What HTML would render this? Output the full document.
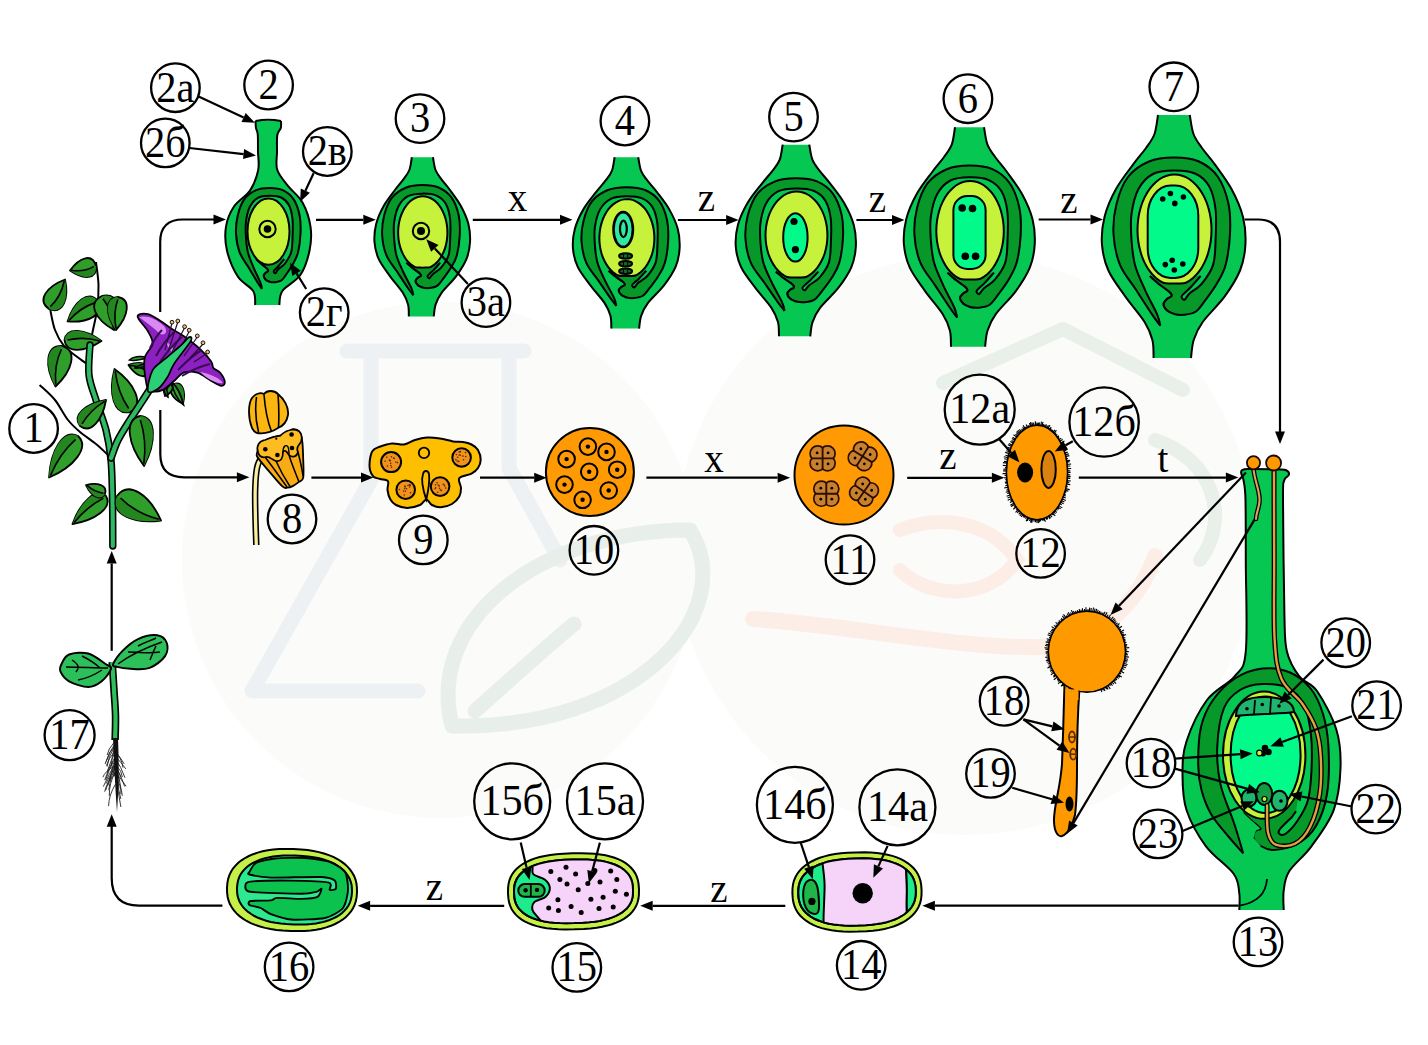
<!DOCTYPE html><html><head><meta charset="utf-8"><style>html,body{margin:0;padding:0;background:#fff;}svg{display:block;} text{font-family:"Liberation Serif",serif;}</style></head><body><svg width="1428" height="1045" viewBox="0 0 1428 1045"><rect width="1428" height="1045" fill="#fff"/><g id="wm"><circle cx="440" cy="560" r="258" fill="#fbfbfa"/><circle cx="965" cy="545" r="290" fill="#fbfbfa"/><path d="M347,351 L524,351 M371,351 L371,480 L252,691 L418,691 M509,351 L509,468 L560,560" fill="none" stroke="#edf1f4" stroke-width="15" stroke-linejoin="round" stroke-linecap="round"/><path d="M452,726 C425,620 540,530 690,530 C740,610 640,730 452,726 Z M475,711 C510,680 545,648 574,624" fill="none" stroke="#e8eee9" stroke-width="15" stroke-linejoin="round" stroke-linecap="round"/><path d="M943,383 L1063,329 L1183,390" fill="none" stroke="#e9f0ea" stroke-width="14" stroke-linecap="round" stroke-linejoin="round"/><path d="M1155,440 C1215,460 1230,520 1200,560" fill="none" stroke="#e9f0ea" stroke-width="14" stroke-linecap="round"/><path d="M753,619 C850,625 960,650 1052,647 C1100,640 1140,600 1155,556" fill="none" stroke="#fcede7" stroke-width="16" stroke-linecap="round"/><path d="M900,530 C940,515 990,520 1017,560 C990,600 930,600 900,570" fill="none" stroke="#fcede7" stroke-width="14" stroke-linecap="round"/></g><path d="M255.5,121.0 C255.6,122.2 255.6,125.7 256.0,128.0 C256.4,130.3 257.5,131.0 257.8,135.0 C258.1,139.0 257.9,146.2 258.0,152.0 C258.1,157.8 259.5,163.6 258.2,170.0 C256.9,176.4 254.2,184.3 250.2,190.4 C246.2,196.5 238.0,200.5 234.0,206.5 C230.0,212.5 227.2,219.2 226.0,226.6 C224.8,234.0 225.0,242.3 227.0,250.7 C229.0,259.1 233.6,270.1 238.0,276.8 C242.4,283.5 250.3,286.3 253.2,291.0 C256.1,295.7 254.9,302.7 255.2,305.0 L279.3,305.0 C279.8,302.7 278.9,296.0 282.4,291.0 C285.9,286.0 296.0,281.5 300.5,274.8 C305.0,268.1 307.8,258.7 309.5,250.7 C311.2,242.7 311.7,234.6 310.5,226.6 C309.3,218.6 306.2,209.2 302.5,202.5 C298.8,195.8 292.6,191.8 288.4,186.4 C284.2,181.0 279.2,175.7 277.3,170.0 C275.4,164.3 277.0,157.8 277.0,152.0 C277.0,146.2 276.7,139.0 277.3,135.0 C277.9,131.0 280.2,130.3 280.8,128.0 C281.4,125.7 281.0,122.2 281.0,121.0 Z" fill="#05c752"/><path d="M255.5,121.0 C255.6,122.2 255.6,125.7 256.0,128.0 C256.4,130.3 257.5,131.0 257.8,135.0 C258.1,139.0 257.9,146.2 258.0,152.0 C258.1,157.8 259.5,163.6 258.2,170.0 C256.9,176.4 254.2,184.3 250.2,190.4 C246.2,196.5 238.0,200.5 234.0,206.5 C230.0,212.5 227.2,219.2 226.0,226.6 C224.8,234.0 225.0,242.3 227.0,250.7 C229.0,259.1 233.6,270.1 238.0,276.8 C242.4,283.5 250.3,286.3 253.2,291.0 C256.1,295.7 254.9,302.7 255.2,305.0" fill="none" stroke="#000" stroke-width="2"/><path d="M281.0,121.0 C281.0,122.2 281.4,125.7 280.8,128.0 C280.2,130.3 277.9,131.0 277.3,135.0 C276.7,139.0 277.0,146.2 277.0,152.0 C277.0,157.8 275.4,164.3 277.3,170.0 C279.2,175.7 284.2,181.0 288.4,186.4 C292.6,191.8 298.8,195.8 302.5,202.5 C306.2,209.2 309.3,218.6 310.5,226.6 C311.7,234.6 311.2,242.7 309.5,250.7 C307.8,258.7 305.0,268.1 300.5,274.8 C296.0,281.5 285.9,286.0 282.4,291.0 C278.9,296.0 279.8,302.7 279.3,305.0" fill="none" stroke="#000" stroke-width="2"/><path d="M255.5,121 Q268,118.5 281,121" fill="none" stroke="#000" stroke-width="2"/><g transform="translate(269.5,233.8) scale(0.5536,0.6)"><path d="M-13.7,91.8 C-15.0,89.9 -17.8,86.6 -21.8,80.6 C-25.9,74.6 -32.6,64.1 -38.0,55.8 C-43.4,47.5 -50.2,40.2 -54.0,30.9 C-57.8,21.6 -59.9,10.2 -60.5,0.0 C-61.1,-10.2 -59.9,-20.5 -57.5,-30.0 C-55.1,-39.5 -51.4,-49.9 -46.0,-57.0 C-40.6,-64.1 -32.7,-69.2 -25.0,-72.5 C-17.3,-75.8 -8.3,-76.5 0.0,-76.5 C8.3,-76.5 17.7,-75.8 25.0,-72.5 C32.3,-69.2 39.1,-64.1 44.0,-57.0 C48.9,-49.9 52.5,-39.5 54.5,-30.0 C56.5,-20.5 56.5,-10.2 56.0,0.0 C55.5,10.2 53.8,22.6 51.6,30.9 C49.4,39.1 46.2,43.7 42.9,49.5 C39.6,55.3 35.2,61.0 31.7,65.7 C28.2,70.4 25.6,75.0 22.0,77.5 C18.4,80.0 13.7,80.4 10.0,80.8 C6.3,81.2 2.8,80.7 0.0,80.0 C-2.8,79.3 -5.2,78.2 -7.0,76.5 C-8.8,74.8 -10.6,72.0 -10.6,70.0 C-10.6,68.0 -8.2,66.1 -6.9,64.8 C-5.6,63.5 -2.9,63.1 -2.5,62.0 C-2.1,60.9 -2.4,60.1 -4.4,58.2 C-6.4,56.3 -11.0,53.5 -14.3,50.8 C-17.6,48.1 -22.6,43.5 -24.3,42.0 Z" fill="#07982a"/><path d="M-13.7,91.8 C-15.0,89.9 -17.8,86.6 -21.8,80.6 C-25.9,74.6 -32.6,64.1 -38.0,55.8 C-43.4,47.5 -50.2,40.2 -54.0,30.9 C-57.8,21.6 -59.9,10.2 -60.5,0.0 C-61.1,-10.2 -59.9,-20.5 -57.5,-30.0 C-55.1,-39.5 -51.4,-49.9 -46.0,-57.0 C-40.6,-64.1 -32.7,-69.2 -25.0,-72.5 C-17.3,-75.8 -8.3,-76.5 0.0,-76.5 C8.3,-76.5 17.7,-75.8 25.0,-72.5 C32.3,-69.2 39.1,-64.1 44.0,-57.0 C48.9,-49.9 52.5,-39.5 54.5,-30.0 C56.5,-20.5 56.5,-10.2 56.0,0.0 C55.5,10.2 53.8,22.6 51.6,30.9 C49.4,39.1 46.2,43.7 42.9,49.5 C39.6,55.3 35.2,61.0 31.7,65.7 C28.2,70.4 25.6,75.0 22.0,77.5 C18.4,80.0 13.7,80.4 10.0,80.8 C6.3,81.2 2.8,80.7 0.0,80.0 C-2.8,79.3 -5.2,78.2 -7.0,76.5 C-8.8,74.8 -10.6,72.0 -10.6,70.0 C-10.6,68.0 -8.2,66.1 -6.9,64.8 C-5.6,63.5 -2.9,63.1 -2.5,62.0 C-2.1,60.9 -2.4,60.1 -4.4,58.2 C-6.4,56.3 -11.0,53.5 -14.3,50.8 C-17.6,48.1 -22.6,43.5 -24.3,42.0" fill="none" stroke="#000" stroke-width="2.0" stroke-linejoin="round" vector-effect="non-scaling-stroke"/><path d="M-13.7,91.8 C-14.2,89.9 -14.2,86.6 -16.8,80.6 C-19.4,74.6 -25.3,64.1 -29.0,55.8 C-32.7,47.5 -36.8,39.2 -39.0,30.9 C-41.2,22.6 -41.9,14.5 -42.5,6.0 C-43.1,-2.5 -43.7,-11.5 -42.5,-20.0 C-41.3,-28.5 -39.1,-38.3 -35.5,-45.0 C-31.9,-51.7 -26.9,-56.9 -21.0,-60.0 C-15.1,-63.1 -7.0,-63.4 0.0,-63.5 C7.0,-63.6 15.2,-63.1 21.0,-60.5 C26.8,-57.9 31.6,-53.9 35.0,-48.0 C38.4,-42.1 40.4,-34.0 41.5,-25.0 C42.6,-16.0 42.0,-3.3 41.6,6.0 C41.2,15.3 41.4,23.6 39.1,30.9 C36.8,38.1 31.9,44.7 28.0,49.5 C24.1,54.3 18.4,56.8 15.5,59.5 C12.6,62.2 11.8,65.2 10.5,65.7 C9.2,66.2 7.5,63.8 7.6,62.6 C7.6,61.5 9.3,60.3 10.8,58.8 C12.3,57.2 14.0,56.1 16.7,53.3 C19.3,50.5 25.0,43.9 26.7,42.0 L-24.3,42.0 C-22.6,43.5 -17.6,48.1 -14.3,50.8 C-11.0,53.5 -6.4,56.3 -4.4,58.2 C-2.4,60.1 -2.1,60.9 -2.5,62.0 C-2.9,63.1 -5.6,63.5 -6.9,64.8 C-8.2,66.1 -10.6,68.0 -10.6,70.0 C-10.6,72.0 -8.8,74.8 -7.0,76.5 C-5.2,78.2 -1.2,79.4 0.0,80.0 L-13.7,91.8 Z" fill="#05c752"/><path d="M-13.7,91.8 C-14.2,89.9 -14.2,86.6 -16.8,80.6 C-19.4,74.6 -25.3,64.1 -29.0,55.8 C-32.7,47.5 -36.8,39.2 -39.0,30.9 C-41.2,22.6 -41.9,14.5 -42.5,6.0 C-43.1,-2.5 -43.7,-11.5 -42.5,-20.0 C-41.3,-28.5 -39.1,-38.3 -35.5,-45.0 C-31.9,-51.7 -26.9,-56.9 -21.0,-60.0 C-15.1,-63.1 -7.0,-63.4 0.0,-63.5 C7.0,-63.6 15.2,-63.1 21.0,-60.5 C26.8,-57.9 31.6,-53.9 35.0,-48.0 C38.4,-42.1 40.4,-34.0 41.5,-25.0 C42.6,-16.0 42.0,-3.3 41.6,6.0 C41.2,15.3 41.4,23.6 39.1,30.9 C36.8,38.1 31.9,44.7 28.0,49.5 C24.1,54.3 18.4,56.8 15.5,59.5 C12.6,62.2 11.8,65.2 10.5,65.7 C9.2,66.2 7.5,63.8 7.6,62.6 C7.6,61.5 9.3,60.3 10.8,58.8 C12.3,57.2 14.0,56.1 16.7,53.3 C19.3,50.5 25.0,43.9 26.7,42.0" fill="none" stroke="#000" stroke-width="2.0" stroke-linejoin="round" vector-effect="non-scaling-stroke"/><path d="M-24.3,42.0 C-22.6,43.5 -17.6,48.1 -14.3,50.8 C-11.0,53.5 -6.4,56.3 -4.4,58.2 C-2.4,60.1 -2.1,60.9 -2.5,62.0 C-2.9,63.1 -5.6,63.5 -6.9,64.8 C-8.2,66.1 -10.6,68.0 -10.6,70.0 C-10.6,72.0 -8.8,74.8 -7.0,76.5 C-5.2,78.2 -1.2,79.4 0.0,80.0" fill="none" stroke="#000" stroke-width="2.0" stroke-linejoin="round" vector-effect="non-scaling-stroke"/></g><ellipse cx="268.5" cy="231.6" rx="21" ry="33.2" fill="#c6f23c" stroke="#000" stroke-width="2"/><circle cx="267.5" cy="229" r="8.2" fill="#c6f23c" stroke="#000" stroke-width="2"/><circle cx="267.5" cy="229" r="3.8" fill="#000"/><g transform="translate(422.45,235.2) scale(0.666,0.6547)"><path d="M-16.0,-119.0 C-16.6,-115.8 -17.5,-105.5 -19.5,-100.0 C-21.5,-94.5 -24.4,-91.1 -28.0,-86.0 C-31.6,-80.9 -36.0,-76.2 -41.0,-69.4 C-46.0,-62.6 -53.2,-53.7 -58.0,-45.0 C-62.8,-36.3 -67.2,-26.3 -69.5,-17.0 C-71.8,-7.7 -72.7,1.8 -72.0,10.7 C-71.3,19.6 -69.5,27.9 -65.6,36.5 C-61.7,45.1 -54.8,53.8 -48.8,62.4 C-42.8,71.0 -33.9,80.7 -29.4,88.0 C-24.9,95.3 -23.1,100.0 -21.6,106.0 C-20.1,112.0 -20.6,121.0 -20.4,124.0 L17.0,124.0 C17.4,121.0 17.8,112.0 19.7,106.0 C21.6,100.0 23.5,95.3 28.7,88.0 C33.9,80.7 44.5,71.0 50.7,62.4 C56.9,53.8 62.5,45.1 66.0,36.5 C69.5,27.9 70.9,19.6 71.4,10.7 C71.9,1.8 71.3,-7.7 69.0,-17.0 C66.7,-26.3 62.2,-36.3 57.5,-45.0 C52.8,-53.7 45.9,-62.6 41.0,-69.4 C36.1,-76.2 31.6,-80.9 28.0,-86.0 C24.4,-91.1 21.5,-94.5 19.5,-100.0 C17.5,-105.5 16.4,-115.8 15.8,-119.0 Z" fill="#05c752"/><path d="M-16.0,-119.0 C-16.6,-115.8 -17.5,-105.5 -19.5,-100.0 C-21.5,-94.5 -24.4,-91.1 -28.0,-86.0 C-31.6,-80.9 -36.0,-76.2 -41.0,-69.4 C-46.0,-62.6 -53.2,-53.7 -58.0,-45.0 C-62.8,-36.3 -67.2,-26.3 -69.5,-17.0 C-71.8,-7.7 -72.7,1.8 -72.0,10.7 C-71.3,19.6 -69.5,27.9 -65.6,36.5 C-61.7,45.1 -54.8,53.8 -48.8,62.4 C-42.8,71.0 -33.9,80.7 -29.4,88.0 C-24.9,95.3 -23.1,100.0 -21.6,106.0 C-20.1,112.0 -20.6,121.0 -20.4,124.0" fill="none" stroke="#000" stroke-width="2.0" vector-effect="non-scaling-stroke"/><path d="M15.8,-119.0 C16.4,-115.8 17.5,-105.5 19.5,-100.0 C21.5,-94.5 24.4,-91.1 28.0,-86.0 C31.6,-80.9 36.1,-76.2 41.0,-69.4 C45.9,-62.6 52.8,-53.7 57.5,-45.0 C62.2,-36.3 66.7,-26.3 69.0,-17.0 C71.3,-7.7 71.9,1.8 71.4,10.7 C70.9,19.6 69.5,27.9 66.0,36.5 C62.5,45.1 56.9,53.8 50.7,62.4 C44.5,71.0 33.9,80.7 28.7,88.0 C23.5,95.3 21.6,100.0 19.7,106.0 C17.8,112.0 17.4,121.0 17.0,124.0" fill="none" stroke="#000" stroke-width="2.0" vector-effect="non-scaling-stroke"/><path d="M-13.7,91.8 C-15.0,89.9 -17.8,86.6 -21.8,80.6 C-25.9,74.6 -32.6,64.1 -38.0,55.8 C-43.4,47.5 -50.2,40.2 -54.0,30.9 C-57.8,21.6 -59.9,10.2 -60.5,0.0 C-61.1,-10.2 -59.9,-20.5 -57.5,-30.0 C-55.1,-39.5 -51.4,-49.9 -46.0,-57.0 C-40.6,-64.1 -32.7,-69.2 -25.0,-72.5 C-17.3,-75.8 -8.3,-76.5 0.0,-76.5 C8.3,-76.5 17.7,-75.8 25.0,-72.5 C32.3,-69.2 39.1,-64.1 44.0,-57.0 C48.9,-49.9 52.5,-39.5 54.5,-30.0 C56.5,-20.5 56.5,-10.2 56.0,0.0 C55.5,10.2 53.8,22.6 51.6,30.9 C49.4,39.1 46.2,43.7 42.9,49.5 C39.6,55.3 35.2,61.0 31.7,65.7 C28.2,70.4 25.6,75.0 22.0,77.5 C18.4,80.0 13.7,80.4 10.0,80.8 C6.3,81.2 2.8,80.7 0.0,80.0 C-2.8,79.3 -5.2,78.2 -7.0,76.5 C-8.8,74.8 -10.6,72.0 -10.6,70.0 C-10.6,68.0 -8.2,66.1 -6.9,64.8 C-5.6,63.5 -2.9,63.1 -2.5,62.0 C-2.1,60.9 -2.4,60.1 -4.4,58.2 C-6.4,56.3 -11.0,53.5 -14.3,50.8 C-17.6,48.1 -22.6,43.5 -24.3,42.0 Z" fill="#07982a"/><path d="M-13.7,91.8 C-15.0,89.9 -17.8,86.6 -21.8,80.6 C-25.9,74.6 -32.6,64.1 -38.0,55.8 C-43.4,47.5 -50.2,40.2 -54.0,30.9 C-57.8,21.6 -59.9,10.2 -60.5,0.0 C-61.1,-10.2 -59.9,-20.5 -57.5,-30.0 C-55.1,-39.5 -51.4,-49.9 -46.0,-57.0 C-40.6,-64.1 -32.7,-69.2 -25.0,-72.5 C-17.3,-75.8 -8.3,-76.5 0.0,-76.5 C8.3,-76.5 17.7,-75.8 25.0,-72.5 C32.3,-69.2 39.1,-64.1 44.0,-57.0 C48.9,-49.9 52.5,-39.5 54.5,-30.0 C56.5,-20.5 56.5,-10.2 56.0,0.0 C55.5,10.2 53.8,22.6 51.6,30.9 C49.4,39.1 46.2,43.7 42.9,49.5 C39.6,55.3 35.2,61.0 31.7,65.7 C28.2,70.4 25.6,75.0 22.0,77.5 C18.4,80.0 13.7,80.4 10.0,80.8 C6.3,81.2 2.8,80.7 0.0,80.0 C-2.8,79.3 -5.2,78.2 -7.0,76.5 C-8.8,74.8 -10.6,72.0 -10.6,70.0 C-10.6,68.0 -8.2,66.1 -6.9,64.8 C-5.6,63.5 -2.9,63.1 -2.5,62.0 C-2.1,60.9 -2.4,60.1 -4.4,58.2 C-6.4,56.3 -11.0,53.5 -14.3,50.8 C-17.6,48.1 -22.6,43.5 -24.3,42.0" fill="none" stroke="#000" stroke-width="2.0" stroke-linejoin="round" vector-effect="non-scaling-stroke"/><path d="M-13.7,91.8 C-14.2,89.9 -14.2,86.6 -16.8,80.6 C-19.4,74.6 -25.3,64.1 -29.0,55.8 C-32.7,47.5 -36.8,39.2 -39.0,30.9 C-41.2,22.6 -41.9,14.5 -42.5,6.0 C-43.1,-2.5 -43.7,-11.5 -42.5,-20.0 C-41.3,-28.5 -39.1,-38.3 -35.5,-45.0 C-31.9,-51.7 -26.9,-56.9 -21.0,-60.0 C-15.1,-63.1 -7.0,-63.4 0.0,-63.5 C7.0,-63.6 15.2,-63.1 21.0,-60.5 C26.8,-57.9 31.6,-53.9 35.0,-48.0 C38.4,-42.1 40.4,-34.0 41.5,-25.0 C42.6,-16.0 42.0,-3.3 41.6,6.0 C41.2,15.3 41.4,23.6 39.1,30.9 C36.8,38.1 31.9,44.7 28.0,49.5 C24.1,54.3 18.4,56.8 15.5,59.5 C12.6,62.2 11.8,65.2 10.5,65.7 C9.2,66.2 7.5,63.8 7.6,62.6 C7.6,61.5 9.3,60.3 10.8,58.8 C12.3,57.2 14.0,56.1 16.7,53.3 C19.3,50.5 25.0,43.9 26.7,42.0 L-24.3,42.0 C-22.6,43.5 -17.6,48.1 -14.3,50.8 C-11.0,53.5 -6.4,56.3 -4.4,58.2 C-2.4,60.1 -2.1,60.9 -2.5,62.0 C-2.9,63.1 -5.6,63.5 -6.9,64.8 C-8.2,66.1 -10.6,68.0 -10.6,70.0 C-10.6,72.0 -8.8,74.8 -7.0,76.5 C-5.2,78.2 -1.2,79.4 0.0,80.0 L-13.7,91.8 Z" fill="#05c752"/><path d="M-13.7,91.8 C-14.2,89.9 -14.2,86.6 -16.8,80.6 C-19.4,74.6 -25.3,64.1 -29.0,55.8 C-32.7,47.5 -36.8,39.2 -39.0,30.9 C-41.2,22.6 -41.9,14.5 -42.5,6.0 C-43.1,-2.5 -43.7,-11.5 -42.5,-20.0 C-41.3,-28.5 -39.1,-38.3 -35.5,-45.0 C-31.9,-51.7 -26.9,-56.9 -21.0,-60.0 C-15.1,-63.1 -7.0,-63.4 0.0,-63.5 C7.0,-63.6 15.2,-63.1 21.0,-60.5 C26.8,-57.9 31.6,-53.9 35.0,-48.0 C38.4,-42.1 40.4,-34.0 41.5,-25.0 C42.6,-16.0 42.0,-3.3 41.6,6.0 C41.2,15.3 41.4,23.6 39.1,30.9 C36.8,38.1 31.9,44.7 28.0,49.5 C24.1,54.3 18.4,56.8 15.5,59.5 C12.6,62.2 11.8,65.2 10.5,65.7 C9.2,66.2 7.5,63.8 7.6,62.6 C7.6,61.5 9.3,60.3 10.8,58.8 C12.3,57.2 14.0,56.1 16.7,53.3 C19.3,50.5 25.0,43.9 26.7,42.0" fill="none" stroke="#000" stroke-width="2.0" stroke-linejoin="round" vector-effect="non-scaling-stroke"/><path d="M-24.3,42.0 C-22.6,43.5 -17.6,48.1 -14.3,50.8 C-11.0,53.5 -6.4,56.3 -4.4,58.2 C-2.4,60.1 -2.1,60.9 -2.5,62.0 C-2.9,63.1 -5.6,63.5 -6.9,64.8 C-8.2,66.1 -10.6,68.0 -10.6,70.0 C-10.6,72.0 -8.8,74.8 -7.0,76.5 C-5.2,78.2 -1.2,79.4 0.0,80.0" fill="none" stroke="#000" stroke-width="2.0" stroke-linejoin="round" vector-effect="non-scaling-stroke"/><path d="M37.5,-4.0 C37.5,-0.2 37.2,3.8 36.7,7.5 C36.2,11.3 35.3,15.1 34.3,18.6 C33.3,22.1 31.9,25.5 30.4,28.6 C28.9,31.7 27.2,34.7 25.3,37.2 C23.4,39.8 21.2,42.1 19.0,44.1 C16.8,46.0 14.4,47.9 11.9,48.8 C9.5,49.7 6.9,49.4 4.4,49.5 C1.8,49.6 -0.8,49.6 -3.4,49.5 C-5.9,49.4 -8.5,49.7 -10.9,48.8 C-13.4,47.9 -15.8,46.0 -18.0,44.1 C-20.2,42.1 -22.4,39.8 -24.3,37.2 C-26.2,34.7 -27.9,31.7 -29.4,28.6 C-30.9,25.5 -32.3,22.1 -33.3,18.6 C-34.3,15.1 -35.2,11.3 -35.7,7.5 C-36.2,3.8 -36.5,-0.2 -36.5,-4.0 C-36.5,-7.8 -36.2,-11.8 -35.7,-15.5 C-35.2,-19.3 -34.3,-23.1 -33.3,-26.6 C-32.3,-30.1 -30.9,-33.5 -29.4,-36.6 C-27.9,-39.7 -26.2,-42.7 -24.3,-45.2 C-22.4,-47.8 -20.2,-50.1 -18.0,-52.1 C-15.8,-54.0 -13.4,-55.6 -10.9,-56.8 C-8.5,-58.0 -5.9,-58.8 -3.4,-59.2 C-0.8,-59.6 1.8,-59.6 4.4,-59.2 C6.9,-58.8 9.5,-58.0 11.9,-56.8 C14.4,-55.6 16.8,-54.0 19.0,-52.1 C21.2,-50.1 23.4,-47.8 25.3,-45.2 C27.2,-42.7 28.9,-39.7 30.4,-36.6 C31.9,-33.5 33.3,-30.1 34.3,-26.6 C35.3,-23.1 36.2,-19.3 36.7,-15.5 C37.2,-11.8 37.5,-7.8 37.5,-4.0 Z" fill="#c6f23c" stroke="#000" stroke-width="2.0" vector-effect="non-scaling-stroke"/></g><circle cx="421" cy="231" r="8.2" fill="#c6f23c" stroke="#000" stroke-width="2"/><circle cx="421" cy="231" r="4" fill="#000"/><g transform="translate(626.5,241.1) scale(0.7434,0.705)"><path d="M-16.0,-119.0 C-16.6,-115.8 -17.5,-105.5 -19.5,-100.0 C-21.5,-94.5 -24.4,-91.1 -28.0,-86.0 C-31.6,-80.9 -36.0,-76.2 -41.0,-69.4 C-46.0,-62.6 -53.2,-53.7 -58.0,-45.0 C-62.8,-36.3 -67.2,-26.3 -69.5,-17.0 C-71.8,-7.7 -72.7,1.8 -72.0,10.7 C-71.3,19.6 -69.5,27.9 -65.6,36.5 C-61.7,45.1 -54.8,53.8 -48.8,62.4 C-42.8,71.0 -33.9,80.7 -29.4,88.0 C-24.9,95.3 -23.1,100.0 -21.6,106.0 C-20.1,112.0 -20.6,121.0 -20.4,124.0 L17.0,124.0 C17.4,121.0 17.8,112.0 19.7,106.0 C21.6,100.0 23.5,95.3 28.7,88.0 C33.9,80.7 44.5,71.0 50.7,62.4 C56.9,53.8 62.5,45.1 66.0,36.5 C69.5,27.9 70.9,19.6 71.4,10.7 C71.9,1.8 71.3,-7.7 69.0,-17.0 C66.7,-26.3 62.2,-36.3 57.5,-45.0 C52.8,-53.7 45.9,-62.6 41.0,-69.4 C36.1,-76.2 31.6,-80.9 28.0,-86.0 C24.4,-91.1 21.5,-94.5 19.5,-100.0 C17.5,-105.5 16.4,-115.8 15.8,-119.0 Z" fill="#05c752"/><path d="M-16.0,-119.0 C-16.6,-115.8 -17.5,-105.5 -19.5,-100.0 C-21.5,-94.5 -24.4,-91.1 -28.0,-86.0 C-31.6,-80.9 -36.0,-76.2 -41.0,-69.4 C-46.0,-62.6 -53.2,-53.7 -58.0,-45.0 C-62.8,-36.3 -67.2,-26.3 -69.5,-17.0 C-71.8,-7.7 -72.7,1.8 -72.0,10.7 C-71.3,19.6 -69.5,27.9 -65.6,36.5 C-61.7,45.1 -54.8,53.8 -48.8,62.4 C-42.8,71.0 -33.9,80.7 -29.4,88.0 C-24.9,95.3 -23.1,100.0 -21.6,106.0 C-20.1,112.0 -20.6,121.0 -20.4,124.0" fill="none" stroke="#000" stroke-width="2.0" vector-effect="non-scaling-stroke"/><path d="M15.8,-119.0 C16.4,-115.8 17.5,-105.5 19.5,-100.0 C21.5,-94.5 24.4,-91.1 28.0,-86.0 C31.6,-80.9 36.1,-76.2 41.0,-69.4 C45.9,-62.6 52.8,-53.7 57.5,-45.0 C62.2,-36.3 66.7,-26.3 69.0,-17.0 C71.3,-7.7 71.9,1.8 71.4,10.7 C70.9,19.6 69.5,27.9 66.0,36.5 C62.5,45.1 56.9,53.8 50.7,62.4 C44.5,71.0 33.9,80.7 28.7,88.0 C23.5,95.3 21.6,100.0 19.7,106.0 C17.8,112.0 17.4,121.0 17.0,124.0" fill="none" stroke="#000" stroke-width="2.0" vector-effect="non-scaling-stroke"/><path d="M-13.7,91.8 C-15.0,89.9 -17.8,86.6 -21.8,80.6 C-25.9,74.6 -32.6,64.1 -38.0,55.8 C-43.4,47.5 -50.2,40.2 -54.0,30.9 C-57.8,21.6 -59.9,10.2 -60.5,0.0 C-61.1,-10.2 -59.9,-20.5 -57.5,-30.0 C-55.1,-39.5 -51.4,-49.9 -46.0,-57.0 C-40.6,-64.1 -32.7,-69.2 -25.0,-72.5 C-17.3,-75.8 -8.3,-76.5 0.0,-76.5 C8.3,-76.5 17.7,-75.8 25.0,-72.5 C32.3,-69.2 39.1,-64.1 44.0,-57.0 C48.9,-49.9 52.5,-39.5 54.5,-30.0 C56.5,-20.5 56.5,-10.2 56.0,0.0 C55.5,10.2 53.8,22.6 51.6,30.9 C49.4,39.1 46.2,43.7 42.9,49.5 C39.6,55.3 35.2,61.0 31.7,65.7 C28.2,70.4 25.6,75.0 22.0,77.5 C18.4,80.0 13.7,80.4 10.0,80.8 C6.3,81.2 2.8,80.7 0.0,80.0 C-2.8,79.3 -5.2,78.2 -7.0,76.5 C-8.8,74.8 -10.6,72.0 -10.6,70.0 C-10.6,68.0 -8.2,66.1 -6.9,64.8 C-5.6,63.5 -2.9,63.1 -2.5,62.0 C-2.1,60.9 -2.4,60.1 -4.4,58.2 C-6.4,56.3 -11.0,53.5 -14.3,50.8 C-17.6,48.1 -22.6,43.5 -24.3,42.0 Z" fill="#07982a"/><path d="M-13.7,91.8 C-15.0,89.9 -17.8,86.6 -21.8,80.6 C-25.9,74.6 -32.6,64.1 -38.0,55.8 C-43.4,47.5 -50.2,40.2 -54.0,30.9 C-57.8,21.6 -59.9,10.2 -60.5,0.0 C-61.1,-10.2 -59.9,-20.5 -57.5,-30.0 C-55.1,-39.5 -51.4,-49.9 -46.0,-57.0 C-40.6,-64.1 -32.7,-69.2 -25.0,-72.5 C-17.3,-75.8 -8.3,-76.5 0.0,-76.5 C8.3,-76.5 17.7,-75.8 25.0,-72.5 C32.3,-69.2 39.1,-64.1 44.0,-57.0 C48.9,-49.9 52.5,-39.5 54.5,-30.0 C56.5,-20.5 56.5,-10.2 56.0,0.0 C55.5,10.2 53.8,22.6 51.6,30.9 C49.4,39.1 46.2,43.7 42.9,49.5 C39.6,55.3 35.2,61.0 31.7,65.7 C28.2,70.4 25.6,75.0 22.0,77.5 C18.4,80.0 13.7,80.4 10.0,80.8 C6.3,81.2 2.8,80.7 0.0,80.0 C-2.8,79.3 -5.2,78.2 -7.0,76.5 C-8.8,74.8 -10.6,72.0 -10.6,70.0 C-10.6,68.0 -8.2,66.1 -6.9,64.8 C-5.6,63.5 -2.9,63.1 -2.5,62.0 C-2.1,60.9 -2.4,60.1 -4.4,58.2 C-6.4,56.3 -11.0,53.5 -14.3,50.8 C-17.6,48.1 -22.6,43.5 -24.3,42.0" fill="none" stroke="#000" stroke-width="2.0" stroke-linejoin="round" vector-effect="non-scaling-stroke"/><path d="M-13.7,91.8 C-14.2,89.9 -14.2,86.6 -16.8,80.6 C-19.4,74.6 -25.3,64.1 -29.0,55.8 C-32.7,47.5 -36.8,39.2 -39.0,30.9 C-41.2,22.6 -41.9,14.5 -42.5,6.0 C-43.1,-2.5 -43.7,-11.5 -42.5,-20.0 C-41.3,-28.5 -39.1,-38.3 -35.5,-45.0 C-31.9,-51.7 -26.9,-56.9 -21.0,-60.0 C-15.1,-63.1 -7.0,-63.4 0.0,-63.5 C7.0,-63.6 15.2,-63.1 21.0,-60.5 C26.8,-57.9 31.6,-53.9 35.0,-48.0 C38.4,-42.1 40.4,-34.0 41.5,-25.0 C42.6,-16.0 42.0,-3.3 41.6,6.0 C41.2,15.3 41.4,23.6 39.1,30.9 C36.8,38.1 31.9,44.7 28.0,49.5 C24.1,54.3 18.4,56.8 15.5,59.5 C12.6,62.2 11.8,65.2 10.5,65.7 C9.2,66.2 7.5,63.8 7.6,62.6 C7.6,61.5 9.3,60.3 10.8,58.8 C12.3,57.2 14.0,56.1 16.7,53.3 C19.3,50.5 25.0,43.9 26.7,42.0 L-24.3,42.0 C-22.6,43.5 -17.6,48.1 -14.3,50.8 C-11.0,53.5 -6.4,56.3 -4.4,58.2 C-2.4,60.1 -2.1,60.9 -2.5,62.0 C-2.9,63.1 -5.6,63.5 -6.9,64.8 C-8.2,66.1 -10.6,68.0 -10.6,70.0 C-10.6,72.0 -8.8,74.8 -7.0,76.5 C-5.2,78.2 -1.2,79.4 0.0,80.0 L-13.7,91.8 Z" fill="#05c752"/><path d="M-13.7,91.8 C-14.2,89.9 -14.2,86.6 -16.8,80.6 C-19.4,74.6 -25.3,64.1 -29.0,55.8 C-32.7,47.5 -36.8,39.2 -39.0,30.9 C-41.2,22.6 -41.9,14.5 -42.5,6.0 C-43.1,-2.5 -43.7,-11.5 -42.5,-20.0 C-41.3,-28.5 -39.1,-38.3 -35.5,-45.0 C-31.9,-51.7 -26.9,-56.9 -21.0,-60.0 C-15.1,-63.1 -7.0,-63.4 0.0,-63.5 C7.0,-63.6 15.2,-63.1 21.0,-60.5 C26.8,-57.9 31.6,-53.9 35.0,-48.0 C38.4,-42.1 40.4,-34.0 41.5,-25.0 C42.6,-16.0 42.0,-3.3 41.6,6.0 C41.2,15.3 41.4,23.6 39.1,30.9 C36.8,38.1 31.9,44.7 28.0,49.5 C24.1,54.3 18.4,56.8 15.5,59.5 C12.6,62.2 11.8,65.2 10.5,65.7 C9.2,66.2 7.5,63.8 7.6,62.6 C7.6,61.5 9.3,60.3 10.8,58.8 C12.3,57.2 14.0,56.1 16.7,53.3 C19.3,50.5 25.0,43.9 26.7,42.0" fill="none" stroke="#000" stroke-width="2.0" stroke-linejoin="round" vector-effect="non-scaling-stroke"/><path d="M-24.3,42.0 C-22.6,43.5 -17.6,48.1 -14.3,50.8 C-11.0,53.5 -6.4,56.3 -4.4,58.2 C-2.4,60.1 -2.1,60.9 -2.5,62.0 C-2.9,63.1 -5.6,63.5 -6.9,64.8 C-8.2,66.1 -10.6,68.0 -10.6,70.0 C-10.6,72.0 -8.8,74.8 -7.0,76.5 C-5.2,78.2 -1.2,79.4 0.0,80.0" fill="none" stroke="#000" stroke-width="2.0" stroke-linejoin="round" vector-effect="non-scaling-stroke"/><path d="M37.5,-4.0 C37.5,-0.2 37.2,3.8 36.7,7.5 C36.2,11.3 35.3,15.1 34.3,18.6 C33.3,22.1 31.9,25.5 30.4,28.6 C28.9,31.7 27.2,34.7 25.3,37.2 C23.4,39.8 21.2,42.1 19.0,44.1 C16.8,46.0 14.4,47.9 11.9,48.8 C9.5,49.7 6.9,49.4 4.4,49.5 C1.8,49.6 -0.8,49.6 -3.4,49.5 C-5.9,49.4 -8.5,49.7 -10.9,48.8 C-13.4,47.9 -15.8,46.0 -18.0,44.1 C-20.2,42.1 -22.4,39.8 -24.3,37.2 C-26.2,34.7 -27.9,31.7 -29.4,28.6 C-30.9,25.5 -32.3,22.1 -33.3,18.6 C-34.3,15.1 -35.2,11.3 -35.7,7.5 C-36.2,3.8 -36.5,-0.2 -36.5,-4.0 C-36.5,-7.8 -36.2,-11.8 -35.7,-15.5 C-35.2,-19.3 -34.3,-23.1 -33.3,-26.6 C-32.3,-30.1 -30.9,-33.5 -29.4,-36.6 C-27.9,-39.7 -26.2,-42.7 -24.3,-45.2 C-22.4,-47.8 -20.2,-50.1 -18.0,-52.1 C-15.8,-54.0 -13.4,-55.6 -10.9,-56.8 C-8.5,-58.0 -5.9,-58.8 -3.4,-59.2 C-0.8,-59.6 1.8,-59.6 4.4,-59.2 C6.9,-58.8 9.5,-58.0 11.9,-56.8 C14.4,-55.6 16.8,-54.0 19.0,-52.1 C21.2,-50.1 23.4,-47.8 25.3,-45.2 C27.2,-42.7 28.9,-39.7 30.4,-36.6 C31.9,-33.5 33.3,-30.1 34.3,-26.6 C35.3,-23.1 36.2,-19.3 36.7,-15.5 C37.2,-11.8 37.5,-7.8 37.5,-4.0 Z" fill="#c6f23c" stroke="#000" stroke-width="2.0" vector-effect="non-scaling-stroke"/></g><ellipse cx="623.2" cy="229.5" rx="9.7" ry="17.4" fill="#2fe8a2" stroke="#000" stroke-width="2.6"/><ellipse cx="623.4" cy="228.9" rx="3.4" ry="8.2" fill="none" stroke="#000" stroke-width="2.2"/><ellipse cx="625.6" cy="256" rx="6.5" ry="2.7" fill="#0d6a25" stroke="#000" stroke-width="2"/><path d="M623.5,254 L623.5,258 M627.7,254 L627.7,258" stroke="#000" stroke-width="1"/><ellipse cx="625.6" cy="263.7" rx="6.5" ry="2.7" fill="#0d6a25" stroke="#000" stroke-width="2"/><path d="M623.5,261.7 L623.5,265.7 M627.7,261.7 L627.7,265.7" stroke="#000" stroke-width="1"/><ellipse cx="625.6" cy="271.3" rx="6.5" ry="2.7" fill="#0d6a25" stroke="#000" stroke-width="2"/><path d="M623.5,269.3 L623.5,273.3 M627.7,269.3 L627.7,273.3" stroke="#000" stroke-width="1"/><g transform="translate(796.05,238.5) scale(0.8368,0.7885)"><path d="M-16.0,-119.0 C-16.6,-115.8 -17.5,-105.5 -19.5,-100.0 C-21.5,-94.5 -24.4,-91.1 -28.0,-86.0 C-31.6,-80.9 -36.0,-76.2 -41.0,-69.4 C-46.0,-62.6 -53.2,-53.7 -58.0,-45.0 C-62.8,-36.3 -67.2,-26.3 -69.5,-17.0 C-71.8,-7.7 -72.7,1.8 -72.0,10.7 C-71.3,19.6 -69.5,27.9 -65.6,36.5 C-61.7,45.1 -54.8,53.8 -48.8,62.4 C-42.8,71.0 -33.9,80.7 -29.4,88.0 C-24.9,95.3 -23.1,100.0 -21.6,106.0 C-20.1,112.0 -20.6,121.0 -20.4,124.0 L17.0,124.0 C17.4,121.0 17.8,112.0 19.7,106.0 C21.6,100.0 23.5,95.3 28.7,88.0 C33.9,80.7 44.5,71.0 50.7,62.4 C56.9,53.8 62.5,45.1 66.0,36.5 C69.5,27.9 70.9,19.6 71.4,10.7 C71.9,1.8 71.3,-7.7 69.0,-17.0 C66.7,-26.3 62.2,-36.3 57.5,-45.0 C52.8,-53.7 45.9,-62.6 41.0,-69.4 C36.1,-76.2 31.6,-80.9 28.0,-86.0 C24.4,-91.1 21.5,-94.5 19.5,-100.0 C17.5,-105.5 16.4,-115.8 15.8,-119.0 Z" fill="#05c752"/><path d="M-16.0,-119.0 C-16.6,-115.8 -17.5,-105.5 -19.5,-100.0 C-21.5,-94.5 -24.4,-91.1 -28.0,-86.0 C-31.6,-80.9 -36.0,-76.2 -41.0,-69.4 C-46.0,-62.6 -53.2,-53.7 -58.0,-45.0 C-62.8,-36.3 -67.2,-26.3 -69.5,-17.0 C-71.8,-7.7 -72.7,1.8 -72.0,10.7 C-71.3,19.6 -69.5,27.9 -65.6,36.5 C-61.7,45.1 -54.8,53.8 -48.8,62.4 C-42.8,71.0 -33.9,80.7 -29.4,88.0 C-24.9,95.3 -23.1,100.0 -21.6,106.0 C-20.1,112.0 -20.6,121.0 -20.4,124.0" fill="none" stroke="#000" stroke-width="2.0" vector-effect="non-scaling-stroke"/><path d="M15.8,-119.0 C16.4,-115.8 17.5,-105.5 19.5,-100.0 C21.5,-94.5 24.4,-91.1 28.0,-86.0 C31.6,-80.9 36.1,-76.2 41.0,-69.4 C45.9,-62.6 52.8,-53.7 57.5,-45.0 C62.2,-36.3 66.7,-26.3 69.0,-17.0 C71.3,-7.7 71.9,1.8 71.4,10.7 C70.9,19.6 69.5,27.9 66.0,36.5 C62.5,45.1 56.9,53.8 50.7,62.4 C44.5,71.0 33.9,80.7 28.7,88.0 C23.5,95.3 21.6,100.0 19.7,106.0 C17.8,112.0 17.4,121.0 17.0,124.0" fill="none" stroke="#000" stroke-width="2.0" vector-effect="non-scaling-stroke"/><path d="M-13.7,91.8 C-15.0,89.9 -17.8,86.6 -21.8,80.6 C-25.9,74.6 -32.6,64.1 -38.0,55.8 C-43.4,47.5 -50.2,40.2 -54.0,30.9 C-57.8,21.6 -59.9,10.2 -60.5,0.0 C-61.1,-10.2 -59.9,-20.5 -57.5,-30.0 C-55.1,-39.5 -51.4,-49.9 -46.0,-57.0 C-40.6,-64.1 -32.7,-69.2 -25.0,-72.5 C-17.3,-75.8 -8.3,-76.5 0.0,-76.5 C8.3,-76.5 17.7,-75.8 25.0,-72.5 C32.3,-69.2 39.1,-64.1 44.0,-57.0 C48.9,-49.9 52.5,-39.5 54.5,-30.0 C56.5,-20.5 56.5,-10.2 56.0,0.0 C55.5,10.2 53.8,22.6 51.6,30.9 C49.4,39.1 46.2,43.7 42.9,49.5 C39.6,55.3 35.2,61.0 31.7,65.7 C28.2,70.4 25.6,75.0 22.0,77.5 C18.4,80.0 13.7,80.4 10.0,80.8 C6.3,81.2 2.8,80.7 0.0,80.0 C-2.8,79.3 -5.2,78.2 -7.0,76.5 C-8.8,74.8 -10.6,72.0 -10.6,70.0 C-10.6,68.0 -8.2,66.1 -6.9,64.8 C-5.6,63.5 -2.9,63.1 -2.5,62.0 C-2.1,60.9 -2.4,60.1 -4.4,58.2 C-6.4,56.3 -11.0,53.5 -14.3,50.8 C-17.6,48.1 -22.6,43.5 -24.3,42.0 Z" fill="#07982a"/><path d="M-13.7,91.8 C-15.0,89.9 -17.8,86.6 -21.8,80.6 C-25.9,74.6 -32.6,64.1 -38.0,55.8 C-43.4,47.5 -50.2,40.2 -54.0,30.9 C-57.8,21.6 -59.9,10.2 -60.5,0.0 C-61.1,-10.2 -59.9,-20.5 -57.5,-30.0 C-55.1,-39.5 -51.4,-49.9 -46.0,-57.0 C-40.6,-64.1 -32.7,-69.2 -25.0,-72.5 C-17.3,-75.8 -8.3,-76.5 0.0,-76.5 C8.3,-76.5 17.7,-75.8 25.0,-72.5 C32.3,-69.2 39.1,-64.1 44.0,-57.0 C48.9,-49.9 52.5,-39.5 54.5,-30.0 C56.5,-20.5 56.5,-10.2 56.0,0.0 C55.5,10.2 53.8,22.6 51.6,30.9 C49.4,39.1 46.2,43.7 42.9,49.5 C39.6,55.3 35.2,61.0 31.7,65.7 C28.2,70.4 25.6,75.0 22.0,77.5 C18.4,80.0 13.7,80.4 10.0,80.8 C6.3,81.2 2.8,80.7 0.0,80.0 C-2.8,79.3 -5.2,78.2 -7.0,76.5 C-8.8,74.8 -10.6,72.0 -10.6,70.0 C-10.6,68.0 -8.2,66.1 -6.9,64.8 C-5.6,63.5 -2.9,63.1 -2.5,62.0 C-2.1,60.9 -2.4,60.1 -4.4,58.2 C-6.4,56.3 -11.0,53.5 -14.3,50.8 C-17.6,48.1 -22.6,43.5 -24.3,42.0" fill="none" stroke="#000" stroke-width="2.0" stroke-linejoin="round" vector-effect="non-scaling-stroke"/><path d="M-13.7,91.8 C-14.2,89.9 -14.2,86.6 -16.8,80.6 C-19.4,74.6 -25.3,64.1 -29.0,55.8 C-32.7,47.5 -36.8,39.2 -39.0,30.9 C-41.2,22.6 -41.9,14.5 -42.5,6.0 C-43.1,-2.5 -43.7,-11.5 -42.5,-20.0 C-41.3,-28.5 -39.1,-38.3 -35.5,-45.0 C-31.9,-51.7 -26.9,-56.9 -21.0,-60.0 C-15.1,-63.1 -7.0,-63.4 0.0,-63.5 C7.0,-63.6 15.2,-63.1 21.0,-60.5 C26.8,-57.9 31.6,-53.9 35.0,-48.0 C38.4,-42.1 40.4,-34.0 41.5,-25.0 C42.6,-16.0 42.0,-3.3 41.6,6.0 C41.2,15.3 41.4,23.6 39.1,30.9 C36.8,38.1 31.9,44.7 28.0,49.5 C24.1,54.3 18.4,56.8 15.5,59.5 C12.6,62.2 11.8,65.2 10.5,65.7 C9.2,66.2 7.5,63.8 7.6,62.6 C7.6,61.5 9.3,60.3 10.8,58.8 C12.3,57.2 14.0,56.1 16.7,53.3 C19.3,50.5 25.0,43.9 26.7,42.0 L-24.3,42.0 C-22.6,43.5 -17.6,48.1 -14.3,50.8 C-11.0,53.5 -6.4,56.3 -4.4,58.2 C-2.4,60.1 -2.1,60.9 -2.5,62.0 C-2.9,63.1 -5.6,63.5 -6.9,64.8 C-8.2,66.1 -10.6,68.0 -10.6,70.0 C-10.6,72.0 -8.8,74.8 -7.0,76.5 C-5.2,78.2 -1.2,79.4 0.0,80.0 L-13.7,91.8 Z" fill="#05c752"/><path d="M-13.7,91.8 C-14.2,89.9 -14.2,86.6 -16.8,80.6 C-19.4,74.6 -25.3,64.1 -29.0,55.8 C-32.7,47.5 -36.8,39.2 -39.0,30.9 C-41.2,22.6 -41.9,14.5 -42.5,6.0 C-43.1,-2.5 -43.7,-11.5 -42.5,-20.0 C-41.3,-28.5 -39.1,-38.3 -35.5,-45.0 C-31.9,-51.7 -26.9,-56.9 -21.0,-60.0 C-15.1,-63.1 -7.0,-63.4 0.0,-63.5 C7.0,-63.6 15.2,-63.1 21.0,-60.5 C26.8,-57.9 31.6,-53.9 35.0,-48.0 C38.4,-42.1 40.4,-34.0 41.5,-25.0 C42.6,-16.0 42.0,-3.3 41.6,6.0 C41.2,15.3 41.4,23.6 39.1,30.9 C36.8,38.1 31.9,44.7 28.0,49.5 C24.1,54.3 18.4,56.8 15.5,59.5 C12.6,62.2 11.8,65.2 10.5,65.7 C9.2,66.2 7.5,63.8 7.6,62.6 C7.6,61.5 9.3,60.3 10.8,58.8 C12.3,57.2 14.0,56.1 16.7,53.3 C19.3,50.5 25.0,43.9 26.7,42.0" fill="none" stroke="#000" stroke-width="2.0" stroke-linejoin="round" vector-effect="non-scaling-stroke"/><path d="M-24.3,42.0 C-22.6,43.5 -17.6,48.1 -14.3,50.8 C-11.0,53.5 -6.4,56.3 -4.4,58.2 C-2.4,60.1 -2.1,60.9 -2.5,62.0 C-2.9,63.1 -5.6,63.5 -6.9,64.8 C-8.2,66.1 -10.6,68.0 -10.6,70.0 C-10.6,72.0 -8.8,74.8 -7.0,76.5 C-5.2,78.2 -1.2,79.4 0.0,80.0" fill="none" stroke="#000" stroke-width="2.0" stroke-linejoin="round" vector-effect="non-scaling-stroke"/><path d="M37.5,-4.0 C37.5,-0.2 37.2,3.8 36.7,7.5 C36.2,11.3 35.3,15.1 34.3,18.6 C33.3,22.1 31.9,25.5 30.4,28.6 C28.9,31.7 27.2,34.7 25.3,37.2 C23.4,39.8 21.2,42.1 19.0,44.1 C16.8,46.0 14.4,47.9 11.9,48.8 C9.5,49.7 6.9,49.4 4.4,49.5 C1.8,49.6 -0.8,49.6 -3.4,49.5 C-5.9,49.4 -8.5,49.7 -10.9,48.8 C-13.4,47.9 -15.8,46.0 -18.0,44.1 C-20.2,42.1 -22.4,39.8 -24.3,37.2 C-26.2,34.7 -27.9,31.7 -29.4,28.6 C-30.9,25.5 -32.3,22.1 -33.3,18.6 C-34.3,15.1 -35.2,11.3 -35.7,7.5 C-36.2,3.8 -36.5,-0.2 -36.5,-4.0 C-36.5,-7.8 -36.2,-11.8 -35.7,-15.5 C-35.2,-19.3 -34.3,-23.1 -33.3,-26.6 C-32.3,-30.1 -30.9,-33.5 -29.4,-36.6 C-27.9,-39.7 -26.2,-42.7 -24.3,-45.2 C-22.4,-47.8 -20.2,-50.1 -18.0,-52.1 C-15.8,-54.0 -13.4,-55.6 -10.9,-56.8 C-8.5,-58.0 -5.9,-58.8 -3.4,-59.2 C-0.8,-59.6 1.8,-59.6 4.4,-59.2 C6.9,-58.8 9.5,-58.0 11.9,-56.8 C14.4,-55.6 16.8,-54.0 19.0,-52.1 C21.2,-50.1 23.4,-47.8 25.3,-45.2 C27.2,-42.7 28.9,-39.7 30.4,-36.6 C31.9,-33.5 33.3,-30.1 34.3,-26.6 C35.3,-23.1 36.2,-19.3 36.7,-15.5 C37.2,-11.8 37.5,-7.8 37.5,-4.0 Z" fill="#c6f23c" stroke="#000" stroke-width="2.0" vector-effect="non-scaling-stroke"/></g><ellipse cx="795.4" cy="237.4" rx="12.2" ry="24.2" fill="#02fa8a" stroke="#000" stroke-width="2"/><circle cx="794" cy="221.5" r="3.6" fill="#000"/><circle cx="795.4" cy="249.6" r="3.6" fill="#000"/><g transform="translate(969.6,234.7) scale(0.912,0.9033)"><path d="M-16.0,-119.0 C-16.6,-115.8 -17.5,-105.5 -19.5,-100.0 C-21.5,-94.5 -24.4,-91.1 -28.0,-86.0 C-31.6,-80.9 -36.0,-76.2 -41.0,-69.4 C-46.0,-62.6 -53.2,-53.7 -58.0,-45.0 C-62.8,-36.3 -67.2,-26.3 -69.5,-17.0 C-71.8,-7.7 -72.7,1.8 -72.0,10.7 C-71.3,19.6 -69.5,27.9 -65.6,36.5 C-61.7,45.1 -54.8,53.8 -48.8,62.4 C-42.8,71.0 -33.9,80.7 -29.4,88.0 C-24.9,95.3 -23.1,100.0 -21.6,106.0 C-20.1,112.0 -20.6,121.0 -20.4,124.0 L17.0,124.0 C17.4,121.0 17.8,112.0 19.7,106.0 C21.6,100.0 23.5,95.3 28.7,88.0 C33.9,80.7 44.5,71.0 50.7,62.4 C56.9,53.8 62.5,45.1 66.0,36.5 C69.5,27.9 70.9,19.6 71.4,10.7 C71.9,1.8 71.3,-7.7 69.0,-17.0 C66.7,-26.3 62.2,-36.3 57.5,-45.0 C52.8,-53.7 45.9,-62.6 41.0,-69.4 C36.1,-76.2 31.6,-80.9 28.0,-86.0 C24.4,-91.1 21.5,-94.5 19.5,-100.0 C17.5,-105.5 16.4,-115.8 15.8,-119.0 Z" fill="#05c752"/><path d="M-16.0,-119.0 C-16.6,-115.8 -17.5,-105.5 -19.5,-100.0 C-21.5,-94.5 -24.4,-91.1 -28.0,-86.0 C-31.6,-80.9 -36.0,-76.2 -41.0,-69.4 C-46.0,-62.6 -53.2,-53.7 -58.0,-45.0 C-62.8,-36.3 -67.2,-26.3 -69.5,-17.0 C-71.8,-7.7 -72.7,1.8 -72.0,10.7 C-71.3,19.6 -69.5,27.9 -65.6,36.5 C-61.7,45.1 -54.8,53.8 -48.8,62.4 C-42.8,71.0 -33.9,80.7 -29.4,88.0 C-24.9,95.3 -23.1,100.0 -21.6,106.0 C-20.1,112.0 -20.6,121.0 -20.4,124.0" fill="none" stroke="#000" stroke-width="2.0" vector-effect="non-scaling-stroke"/><path d="M15.8,-119.0 C16.4,-115.8 17.5,-105.5 19.5,-100.0 C21.5,-94.5 24.4,-91.1 28.0,-86.0 C31.6,-80.9 36.1,-76.2 41.0,-69.4 C45.9,-62.6 52.8,-53.7 57.5,-45.0 C62.2,-36.3 66.7,-26.3 69.0,-17.0 C71.3,-7.7 71.9,1.8 71.4,10.7 C70.9,19.6 69.5,27.9 66.0,36.5 C62.5,45.1 56.9,53.8 50.7,62.4 C44.5,71.0 33.9,80.7 28.7,88.0 C23.5,95.3 21.6,100.0 19.7,106.0 C17.8,112.0 17.4,121.0 17.0,124.0" fill="none" stroke="#000" stroke-width="2.0" vector-effect="non-scaling-stroke"/><path d="M-13.7,91.8 C-15.0,89.9 -17.8,86.6 -21.8,80.6 C-25.9,74.6 -32.6,64.1 -38.0,55.8 C-43.4,47.5 -50.2,40.2 -54.0,30.9 C-57.8,21.6 -59.9,10.2 -60.5,0.0 C-61.1,-10.2 -59.9,-20.5 -57.5,-30.0 C-55.1,-39.5 -51.4,-49.9 -46.0,-57.0 C-40.6,-64.1 -32.7,-69.2 -25.0,-72.5 C-17.3,-75.8 -8.3,-76.5 0.0,-76.5 C8.3,-76.5 17.7,-75.8 25.0,-72.5 C32.3,-69.2 39.1,-64.1 44.0,-57.0 C48.9,-49.9 52.5,-39.5 54.5,-30.0 C56.5,-20.5 56.5,-10.2 56.0,0.0 C55.5,10.2 53.8,22.6 51.6,30.9 C49.4,39.1 46.2,43.7 42.9,49.5 C39.6,55.3 35.2,61.0 31.7,65.7 C28.2,70.4 25.6,75.0 22.0,77.5 C18.4,80.0 13.7,80.4 10.0,80.8 C6.3,81.2 2.8,80.7 0.0,80.0 C-2.8,79.3 -5.2,78.2 -7.0,76.5 C-8.8,74.8 -10.6,72.0 -10.6,70.0 C-10.6,68.0 -8.2,66.1 -6.9,64.8 C-5.6,63.5 -2.9,63.1 -2.5,62.0 C-2.1,60.9 -2.4,60.1 -4.4,58.2 C-6.4,56.3 -11.0,53.5 -14.3,50.8 C-17.6,48.1 -22.6,43.5 -24.3,42.0 Z" fill="#07982a"/><path d="M-13.7,91.8 C-15.0,89.9 -17.8,86.6 -21.8,80.6 C-25.9,74.6 -32.6,64.1 -38.0,55.8 C-43.4,47.5 -50.2,40.2 -54.0,30.9 C-57.8,21.6 -59.9,10.2 -60.5,0.0 C-61.1,-10.2 -59.9,-20.5 -57.5,-30.0 C-55.1,-39.5 -51.4,-49.9 -46.0,-57.0 C-40.6,-64.1 -32.7,-69.2 -25.0,-72.5 C-17.3,-75.8 -8.3,-76.5 0.0,-76.5 C8.3,-76.5 17.7,-75.8 25.0,-72.5 C32.3,-69.2 39.1,-64.1 44.0,-57.0 C48.9,-49.9 52.5,-39.5 54.5,-30.0 C56.5,-20.5 56.5,-10.2 56.0,0.0 C55.5,10.2 53.8,22.6 51.6,30.9 C49.4,39.1 46.2,43.7 42.9,49.5 C39.6,55.3 35.2,61.0 31.7,65.7 C28.2,70.4 25.6,75.0 22.0,77.5 C18.4,80.0 13.7,80.4 10.0,80.8 C6.3,81.2 2.8,80.7 0.0,80.0 C-2.8,79.3 -5.2,78.2 -7.0,76.5 C-8.8,74.8 -10.6,72.0 -10.6,70.0 C-10.6,68.0 -8.2,66.1 -6.9,64.8 C-5.6,63.5 -2.9,63.1 -2.5,62.0 C-2.1,60.9 -2.4,60.1 -4.4,58.2 C-6.4,56.3 -11.0,53.5 -14.3,50.8 C-17.6,48.1 -22.6,43.5 -24.3,42.0" fill="none" stroke="#000" stroke-width="2.0" stroke-linejoin="round" vector-effect="non-scaling-stroke"/><path d="M-13.7,91.8 C-14.2,89.9 -14.2,86.6 -16.8,80.6 C-19.4,74.6 -25.3,64.1 -29.0,55.8 C-32.7,47.5 -36.8,39.2 -39.0,30.9 C-41.2,22.6 -41.9,14.5 -42.5,6.0 C-43.1,-2.5 -43.7,-11.5 -42.5,-20.0 C-41.3,-28.5 -39.1,-38.3 -35.5,-45.0 C-31.9,-51.7 -26.9,-56.9 -21.0,-60.0 C-15.1,-63.1 -7.0,-63.4 0.0,-63.5 C7.0,-63.6 15.2,-63.1 21.0,-60.5 C26.8,-57.9 31.6,-53.9 35.0,-48.0 C38.4,-42.1 40.4,-34.0 41.5,-25.0 C42.6,-16.0 42.0,-3.3 41.6,6.0 C41.2,15.3 41.4,23.6 39.1,30.9 C36.8,38.1 31.9,44.7 28.0,49.5 C24.1,54.3 18.4,56.8 15.5,59.5 C12.6,62.2 11.8,65.2 10.5,65.7 C9.2,66.2 7.5,63.8 7.6,62.6 C7.6,61.5 9.3,60.3 10.8,58.8 C12.3,57.2 14.0,56.1 16.7,53.3 C19.3,50.5 25.0,43.9 26.7,42.0 L-24.3,42.0 C-22.6,43.5 -17.6,48.1 -14.3,50.8 C-11.0,53.5 -6.4,56.3 -4.4,58.2 C-2.4,60.1 -2.1,60.9 -2.5,62.0 C-2.9,63.1 -5.6,63.5 -6.9,64.8 C-8.2,66.1 -10.6,68.0 -10.6,70.0 C-10.6,72.0 -8.8,74.8 -7.0,76.5 C-5.2,78.2 -1.2,79.4 0.0,80.0 L-13.7,91.8 Z" fill="#05c752"/><path d="M-13.7,91.8 C-14.2,89.9 -14.2,86.6 -16.8,80.6 C-19.4,74.6 -25.3,64.1 -29.0,55.8 C-32.7,47.5 -36.8,39.2 -39.0,30.9 C-41.2,22.6 -41.9,14.5 -42.5,6.0 C-43.1,-2.5 -43.7,-11.5 -42.5,-20.0 C-41.3,-28.5 -39.1,-38.3 -35.5,-45.0 C-31.9,-51.7 -26.9,-56.9 -21.0,-60.0 C-15.1,-63.1 -7.0,-63.4 0.0,-63.5 C7.0,-63.6 15.2,-63.1 21.0,-60.5 C26.8,-57.9 31.6,-53.9 35.0,-48.0 C38.4,-42.1 40.4,-34.0 41.5,-25.0 C42.6,-16.0 42.0,-3.3 41.6,6.0 C41.2,15.3 41.4,23.6 39.1,30.9 C36.8,38.1 31.9,44.7 28.0,49.5 C24.1,54.3 18.4,56.8 15.5,59.5 C12.6,62.2 11.8,65.2 10.5,65.7 C9.2,66.2 7.5,63.8 7.6,62.6 C7.6,61.5 9.3,60.3 10.8,58.8 C12.3,57.2 14.0,56.1 16.7,53.3 C19.3,50.5 25.0,43.9 26.7,42.0" fill="none" stroke="#000" stroke-width="2.0" stroke-linejoin="round" vector-effect="non-scaling-stroke"/><path d="M-24.3,42.0 C-22.6,43.5 -17.6,48.1 -14.3,50.8 C-11.0,53.5 -6.4,56.3 -4.4,58.2 C-2.4,60.1 -2.1,60.9 -2.5,62.0 C-2.9,63.1 -5.6,63.5 -6.9,64.8 C-8.2,66.1 -10.6,68.0 -10.6,70.0 C-10.6,72.0 -8.8,74.8 -7.0,76.5 C-5.2,78.2 -1.2,79.4 0.0,80.0" fill="none" stroke="#000" stroke-width="2.0" stroke-linejoin="round" vector-effect="non-scaling-stroke"/><path d="M37.5,-4.0 C37.5,-0.2 37.2,3.8 36.7,7.5 C36.2,11.3 35.3,15.1 34.3,18.6 C33.3,22.1 31.9,25.5 30.4,28.6 C28.9,31.7 27.2,34.7 25.3,37.2 C23.4,39.8 21.2,42.1 19.0,44.1 C16.8,46.0 14.4,47.9 11.9,48.8 C9.5,49.7 6.9,49.4 4.4,49.5 C1.8,49.6 -0.8,49.6 -3.4,49.5 C-5.9,49.4 -8.5,49.7 -10.9,48.8 C-13.4,47.9 -15.8,46.0 -18.0,44.1 C-20.2,42.1 -22.4,39.8 -24.3,37.2 C-26.2,34.7 -27.9,31.7 -29.4,28.6 C-30.9,25.5 -32.3,22.1 -33.3,18.6 C-34.3,15.1 -35.2,11.3 -35.7,7.5 C-36.2,3.8 -36.5,-0.2 -36.5,-4.0 C-36.5,-7.8 -36.2,-11.8 -35.7,-15.5 C-35.2,-19.3 -34.3,-23.1 -33.3,-26.6 C-32.3,-30.1 -30.9,-33.5 -29.4,-36.6 C-27.9,-39.7 -26.2,-42.7 -24.3,-45.2 C-22.4,-47.8 -20.2,-50.1 -18.0,-52.1 C-15.8,-54.0 -13.4,-55.6 -10.9,-56.8 C-8.5,-58.0 -5.9,-58.8 -3.4,-59.2 C-0.8,-59.6 1.8,-59.6 4.4,-59.2 C6.9,-58.8 9.5,-58.0 11.9,-56.8 C14.4,-55.6 16.8,-54.0 19.0,-52.1 C21.2,-50.1 23.4,-47.8 25.3,-45.2 C27.2,-42.7 28.9,-39.7 30.4,-36.6 C31.9,-33.5 33.3,-30.1 34.3,-26.6 C35.3,-23.1 36.2,-19.3 36.7,-15.5 C37.2,-11.8 37.5,-7.8 37.5,-4.0 Z" fill="#c6f23c" stroke="#000" stroke-width="2.0" vector-effect="non-scaling-stroke"/></g><rect x="953.4" y="196" width="32.2" height="73" rx="14" ry="14" fill="#02fa8a" stroke="#000" stroke-width="2"/><circle cx="962.2" cy="208" r="3.8" fill="#000"/><circle cx="972.5" cy="208.5" r="3.8" fill="#000"/><circle cx="965.3" cy="256.3" r="3.8" fill="#000"/><circle cx="975.6" cy="256.3" r="3.8" fill="#000"/><g transform="translate(1174,234) scale(1,1)"><path d="M-16.0,-119.0 C-16.6,-115.8 -17.5,-105.5 -19.5,-100.0 C-21.5,-94.5 -24.4,-91.1 -28.0,-86.0 C-31.6,-80.9 -36.0,-76.2 -41.0,-69.4 C-46.0,-62.6 -53.2,-53.7 -58.0,-45.0 C-62.8,-36.3 -67.2,-26.3 -69.5,-17.0 C-71.8,-7.7 -72.7,1.8 -72.0,10.7 C-71.3,19.6 -69.5,27.9 -65.6,36.5 C-61.7,45.1 -54.8,53.8 -48.8,62.4 C-42.8,71.0 -33.9,80.7 -29.4,88.0 C-24.9,95.3 -23.1,100.0 -21.6,106.0 C-20.1,112.0 -20.6,121.0 -20.4,124.0 L17.0,124.0 C17.4,121.0 17.8,112.0 19.7,106.0 C21.6,100.0 23.5,95.3 28.7,88.0 C33.9,80.7 44.5,71.0 50.7,62.4 C56.9,53.8 62.5,45.1 66.0,36.5 C69.5,27.9 70.9,19.6 71.4,10.7 C71.9,1.8 71.3,-7.7 69.0,-17.0 C66.7,-26.3 62.2,-36.3 57.5,-45.0 C52.8,-53.7 45.9,-62.6 41.0,-69.4 C36.1,-76.2 31.6,-80.9 28.0,-86.0 C24.4,-91.1 21.5,-94.5 19.5,-100.0 C17.5,-105.5 16.4,-115.8 15.8,-119.0 Z" fill="#05c752"/><path d="M-16.0,-119.0 C-16.6,-115.8 -17.5,-105.5 -19.5,-100.0 C-21.5,-94.5 -24.4,-91.1 -28.0,-86.0 C-31.6,-80.9 -36.0,-76.2 -41.0,-69.4 C-46.0,-62.6 -53.2,-53.7 -58.0,-45.0 C-62.8,-36.3 -67.2,-26.3 -69.5,-17.0 C-71.8,-7.7 -72.7,1.8 -72.0,10.7 C-71.3,19.6 -69.5,27.9 -65.6,36.5 C-61.7,45.1 -54.8,53.8 -48.8,62.4 C-42.8,71.0 -33.9,80.7 -29.4,88.0 C-24.9,95.3 -23.1,100.0 -21.6,106.0 C-20.1,112.0 -20.6,121.0 -20.4,124.0" fill="none" stroke="#000" stroke-width="2.0" vector-effect="non-scaling-stroke"/><path d="M15.8,-119.0 C16.4,-115.8 17.5,-105.5 19.5,-100.0 C21.5,-94.5 24.4,-91.1 28.0,-86.0 C31.6,-80.9 36.1,-76.2 41.0,-69.4 C45.9,-62.6 52.8,-53.7 57.5,-45.0 C62.2,-36.3 66.7,-26.3 69.0,-17.0 C71.3,-7.7 71.9,1.8 71.4,10.7 C70.9,19.6 69.5,27.9 66.0,36.5 C62.5,45.1 56.9,53.8 50.7,62.4 C44.5,71.0 33.9,80.7 28.7,88.0 C23.5,95.3 21.6,100.0 19.7,106.0 C17.8,112.0 17.4,121.0 17.0,124.0" fill="none" stroke="#000" stroke-width="2.0" vector-effect="non-scaling-stroke"/><path d="M-13.7,91.8 C-15.0,89.9 -17.8,86.6 -21.8,80.6 C-25.9,74.6 -32.6,64.1 -38.0,55.8 C-43.4,47.5 -50.2,40.2 -54.0,30.9 C-57.8,21.6 -59.9,10.2 -60.5,0.0 C-61.1,-10.2 -59.9,-20.5 -57.5,-30.0 C-55.1,-39.5 -51.4,-49.9 -46.0,-57.0 C-40.6,-64.1 -32.7,-69.2 -25.0,-72.5 C-17.3,-75.8 -8.3,-76.5 0.0,-76.5 C8.3,-76.5 17.7,-75.8 25.0,-72.5 C32.3,-69.2 39.1,-64.1 44.0,-57.0 C48.9,-49.9 52.5,-39.5 54.5,-30.0 C56.5,-20.5 56.5,-10.2 56.0,0.0 C55.5,10.2 53.8,22.6 51.6,30.9 C49.4,39.1 46.2,43.7 42.9,49.5 C39.6,55.3 35.2,61.0 31.7,65.7 C28.2,70.4 25.6,75.0 22.0,77.5 C18.4,80.0 13.7,80.4 10.0,80.8 C6.3,81.2 2.8,80.7 0.0,80.0 C-2.8,79.3 -5.2,78.2 -7.0,76.5 C-8.8,74.8 -10.6,72.0 -10.6,70.0 C-10.6,68.0 -8.2,66.1 -6.9,64.8 C-5.6,63.5 -2.9,63.1 -2.5,62.0 C-2.1,60.9 -2.4,60.1 -4.4,58.2 C-6.4,56.3 -11.0,53.5 -14.3,50.8 C-17.6,48.1 -22.6,43.5 -24.3,42.0 Z" fill="#07982a"/><path d="M-13.7,91.8 C-15.0,89.9 -17.8,86.6 -21.8,80.6 C-25.9,74.6 -32.6,64.1 -38.0,55.8 C-43.4,47.5 -50.2,40.2 -54.0,30.9 C-57.8,21.6 -59.9,10.2 -60.5,0.0 C-61.1,-10.2 -59.9,-20.5 -57.5,-30.0 C-55.1,-39.5 -51.4,-49.9 -46.0,-57.0 C-40.6,-64.1 -32.7,-69.2 -25.0,-72.5 C-17.3,-75.8 -8.3,-76.5 0.0,-76.5 C8.3,-76.5 17.7,-75.8 25.0,-72.5 C32.3,-69.2 39.1,-64.1 44.0,-57.0 C48.9,-49.9 52.5,-39.5 54.5,-30.0 C56.5,-20.5 56.5,-10.2 56.0,0.0 C55.5,10.2 53.8,22.6 51.6,30.9 C49.4,39.1 46.2,43.7 42.9,49.5 C39.6,55.3 35.2,61.0 31.7,65.7 C28.2,70.4 25.6,75.0 22.0,77.5 C18.4,80.0 13.7,80.4 10.0,80.8 C6.3,81.2 2.8,80.7 0.0,80.0 C-2.8,79.3 -5.2,78.2 -7.0,76.5 C-8.8,74.8 -10.6,72.0 -10.6,70.0 C-10.6,68.0 -8.2,66.1 -6.9,64.8 C-5.6,63.5 -2.9,63.1 -2.5,62.0 C-2.1,60.9 -2.4,60.1 -4.4,58.2 C-6.4,56.3 -11.0,53.5 -14.3,50.8 C-17.6,48.1 -22.6,43.5 -24.3,42.0" fill="none" stroke="#000" stroke-width="2.0" stroke-linejoin="round" vector-effect="non-scaling-stroke"/><path d="M-13.7,91.8 C-14.2,89.9 -14.2,86.6 -16.8,80.6 C-19.4,74.6 -25.3,64.1 -29.0,55.8 C-32.7,47.5 -36.8,39.2 -39.0,30.9 C-41.2,22.6 -41.9,14.5 -42.5,6.0 C-43.1,-2.5 -43.7,-11.5 -42.5,-20.0 C-41.3,-28.5 -39.1,-38.3 -35.5,-45.0 C-31.9,-51.7 -26.9,-56.9 -21.0,-60.0 C-15.1,-63.1 -7.0,-63.4 0.0,-63.5 C7.0,-63.6 15.2,-63.1 21.0,-60.5 C26.8,-57.9 31.6,-53.9 35.0,-48.0 C38.4,-42.1 40.4,-34.0 41.5,-25.0 C42.6,-16.0 42.0,-3.3 41.6,6.0 C41.2,15.3 41.4,23.6 39.1,30.9 C36.8,38.1 31.9,44.7 28.0,49.5 C24.1,54.3 18.4,56.8 15.5,59.5 C12.6,62.2 11.8,65.2 10.5,65.7 C9.2,66.2 7.5,63.8 7.6,62.6 C7.6,61.5 9.3,60.3 10.8,58.8 C12.3,57.2 14.0,56.1 16.7,53.3 C19.3,50.5 25.0,43.9 26.7,42.0 L-24.3,42.0 C-22.6,43.5 -17.6,48.1 -14.3,50.8 C-11.0,53.5 -6.4,56.3 -4.4,58.2 C-2.4,60.1 -2.1,60.9 -2.5,62.0 C-2.9,63.1 -5.6,63.5 -6.9,64.8 C-8.2,66.1 -10.6,68.0 -10.6,70.0 C-10.6,72.0 -8.8,74.8 -7.0,76.5 C-5.2,78.2 -1.2,79.4 0.0,80.0 L-13.7,91.8 Z" fill="#05c752"/><path d="M-13.7,91.8 C-14.2,89.9 -14.2,86.6 -16.8,80.6 C-19.4,74.6 -25.3,64.1 -29.0,55.8 C-32.7,47.5 -36.8,39.2 -39.0,30.9 C-41.2,22.6 -41.9,14.5 -42.5,6.0 C-43.1,-2.5 -43.7,-11.5 -42.5,-20.0 C-41.3,-28.5 -39.1,-38.3 -35.5,-45.0 C-31.9,-51.7 -26.9,-56.9 -21.0,-60.0 C-15.1,-63.1 -7.0,-63.4 0.0,-63.5 C7.0,-63.6 15.2,-63.1 21.0,-60.5 C26.8,-57.9 31.6,-53.9 35.0,-48.0 C38.4,-42.1 40.4,-34.0 41.5,-25.0 C42.6,-16.0 42.0,-3.3 41.6,6.0 C41.2,15.3 41.4,23.6 39.1,30.9 C36.8,38.1 31.9,44.7 28.0,49.5 C24.1,54.3 18.4,56.8 15.5,59.5 C12.6,62.2 11.8,65.2 10.5,65.7 C9.2,66.2 7.5,63.8 7.6,62.6 C7.6,61.5 9.3,60.3 10.8,58.8 C12.3,57.2 14.0,56.1 16.7,53.3 C19.3,50.5 25.0,43.9 26.7,42.0" fill="none" stroke="#000" stroke-width="2.0" stroke-linejoin="round" vector-effect="non-scaling-stroke"/><path d="M-24.3,42.0 C-22.6,43.5 -17.6,48.1 -14.3,50.8 C-11.0,53.5 -6.4,56.3 -4.4,58.2 C-2.4,60.1 -2.1,60.9 -2.5,62.0 C-2.9,63.1 -5.6,63.5 -6.9,64.8 C-8.2,66.1 -10.6,68.0 -10.6,70.0 C-10.6,72.0 -8.8,74.8 -7.0,76.5 C-5.2,78.2 -1.2,79.4 0.0,80.0" fill="none" stroke="#000" stroke-width="2.0" stroke-linejoin="round" vector-effect="non-scaling-stroke"/><path d="M37.5,-4.0 C37.5,-0.2 37.2,3.8 36.7,7.5 C36.2,11.3 35.3,15.1 34.3,18.6 C33.3,22.1 31.9,25.5 30.4,28.6 C28.9,31.7 27.2,34.7 25.3,37.2 C23.4,39.8 21.2,42.1 19.0,44.1 C16.8,46.0 14.4,47.9 11.9,48.8 C9.5,49.7 6.9,49.4 4.4,49.5 C1.8,49.6 -0.8,49.6 -3.4,49.5 C-5.9,49.4 -8.5,49.7 -10.9,48.8 C-13.4,47.9 -15.8,46.0 -18.0,44.1 C-20.2,42.1 -22.4,39.8 -24.3,37.2 C-26.2,34.7 -27.9,31.7 -29.4,28.6 C-30.9,25.5 -32.3,22.1 -33.3,18.6 C-34.3,15.1 -35.2,11.3 -35.7,7.5 C-36.2,3.8 -36.5,-0.2 -36.5,-4.0 C-36.5,-7.8 -36.2,-11.8 -35.7,-15.5 C-35.2,-19.3 -34.3,-23.1 -33.3,-26.6 C-32.3,-30.1 -30.9,-33.5 -29.4,-36.6 C-27.9,-39.7 -26.2,-42.7 -24.3,-45.2 C-22.4,-47.8 -20.2,-50.1 -18.0,-52.1 C-15.8,-54.0 -13.4,-55.6 -10.9,-56.8 C-8.5,-58.0 -5.9,-58.8 -3.4,-59.2 C-0.8,-59.6 1.8,-59.6 4.4,-59.2 C6.9,-58.8 9.5,-58.0 11.9,-56.8 C14.4,-55.6 16.8,-54.0 19.0,-52.1 C21.2,-50.1 23.4,-47.8 25.3,-45.2 C27.2,-42.7 28.9,-39.7 30.4,-36.6 C31.9,-33.5 33.3,-30.1 34.3,-26.6 C35.3,-23.1 36.2,-19.3 36.7,-15.5 C37.2,-11.8 37.5,-7.8 37.5,-4.0 Z" fill="#c6f23c" stroke="#000" stroke-width="2.0" vector-effect="non-scaling-stroke"/></g><rect x="1147.7" y="185.5" width="50.6" height="92.5" rx="23" ry="30" fill="#02fa8a" stroke="#000" stroke-width="2"/><circle cx="1162.7" cy="199" r="2.8" fill="#000"/><circle cx="1170.4" cy="193.5" r="2.8" fill="#000"/><circle cx="1183.4" cy="197" r="2.8" fill="#000"/><circle cx="1174.8" cy="203.4" r="2.8" fill="#000"/><circle cx="1165.3" cy="264.6" r="2.8" fill="#000"/><circle cx="1172.2" cy="260.2" r="2.8" fill="#000"/><circle cx="1182.8" cy="264" r="2.8" fill="#000"/><circle cx="1174.3" cy="270" r="2.8" fill="#000"/><path d="M160.2,312 L160.2,242 Q160.2,219.5 183,219.5 L214,219.5" fill="none" stroke="#000" stroke-width="2.2"/><path d="M226,219.5 L213.5,224.5 L213.5,214.5 Z" fill="#000"/><line x1="316" y1="219.8" x2="363.3" y2="219.8" stroke="#000" stroke-width="2.2"/><path d="M375.8,219.8 L363.3,224.8 L363.3,214.8 Z" fill="#000"/><line x1="472.8" y1="219.8" x2="560.0" y2="219.8" stroke="#000" stroke-width="2.2"/><path d="M572.5,219.8 L560.0,224.8 L560.0,214.8 Z" fill="#000"/><text x="517.6" y="210.6" text-anchor="middle" font-size="39">x</text><line x1="677.9" y1="220" x2="726.1" y2="220.0" stroke="#000" stroke-width="2.2"/><path d="M738.6,220 L726.1,225.0 L726.1,215.0 Z" fill="#000"/><text x="706.4" y="211.2" text-anchor="middle" font-size="39">z</text><line x1="856.4" y1="220" x2="892.0" y2="220.0" stroke="#000" stroke-width="2.2"/><path d="M904.5,220 L892.0,225.0 L892.0,215.0 Z" fill="#000"/><text x="877.4" y="211.5" text-anchor="middle" font-size="39">z</text><line x1="1038.7" y1="219.5" x2="1090.5" y2="219.5" stroke="#000" stroke-width="2.2"/><path d="M1103,219.5 L1090.5,224.5 L1090.5,214.5 Z" fill="#000"/><text x="1068.8" y="212.5" text-anchor="middle" font-size="39">z</text><path d="M1244.5,219.5 L1258,219.5 Q1280,219.5 1280,242 L1280,432" fill="none" stroke="#000" stroke-width="2.2"/><path d="M1280,444 L1275.0,431.5 L1285.0,431.5 Z" fill="#000"/><circle cx="175.4" cy="87.7" r="24.3" fill="none" stroke="#000" stroke-width="2.3"/><text x="0" y="0" transform="translate(175.4,101.5) scale(0.92,1)" text-anchor="middle" font-size="44">2а</text><circle cx="268.6" cy="85" r="24.3" fill="none" stroke="#000" stroke-width="2.3"/><text x="0" y="0" transform="translate(268.6,98.8) scale(0.92,1)" text-anchor="middle" font-size="44">2</text><circle cx="165.3" cy="142.9" r="24.3" fill="none" stroke="#000" stroke-width="2.3"/><text x="0" y="0" transform="translate(165.3,156.70000000000002) scale(0.92,1)" text-anchor="middle" font-size="44">2б</text><circle cx="327.3" cy="151.5" r="24.3" fill="none" stroke="#000" stroke-width="2.3"/><text x="0" y="0" transform="translate(327.3,165.3) scale(0.92,1)" text-anchor="middle" font-size="44">2в</text><circle cx="324.2" cy="312.6" r="24.3" fill="none" stroke="#000" stroke-width="2.3"/><text x="0" y="0" transform="translate(324.2,326.40000000000003) scale(0.92,1)" text-anchor="middle" font-size="44">2г</text><circle cx="420" cy="118.6" r="24.3" fill="none" stroke="#000" stroke-width="2.3"/><text x="0" y="0" transform="translate(420,132.4) scale(0.92,1)" text-anchor="middle" font-size="44">3</text><circle cx="485.9" cy="302.6" r="24.3" fill="none" stroke="#000" stroke-width="2.3"/><text x="0" y="0" transform="translate(485.9,316.40000000000003) scale(0.92,1)" text-anchor="middle" font-size="44">3а</text><circle cx="624.9" cy="121" r="24.3" fill="none" stroke="#000" stroke-width="2.3"/><text x="0" y="0" transform="translate(624.9,134.8) scale(0.92,1)" text-anchor="middle" font-size="44">4</text><circle cx="793.5" cy="117.1" r="24.3" fill="none" stroke="#000" stroke-width="2.3"/><text x="0" y="0" transform="translate(793.5,130.9) scale(0.92,1)" text-anchor="middle" font-size="44">5</text><circle cx="967.9" cy="98.7" r="24.3" fill="none" stroke="#000" stroke-width="2.3"/><text x="0" y="0" transform="translate(967.9,112.5) scale(0.92,1)" text-anchor="middle" font-size="44">6</text><circle cx="1173.8" cy="86.8" r="24.3" fill="none" stroke="#000" stroke-width="2.3"/><text x="0" y="0" transform="translate(1173.8,100.6) scale(0.92,1)" text-anchor="middle" font-size="44">7</text><line x1="198.6" y1="96.4" x2="243.6" y2="117.5" stroke="#000" stroke-width="2.2"/><path d="M254.9,122.8 L241.5,122.0 L245.7,113.0 Z" fill="#000"/><line x1="189.4" y1="148" x2="243.6" y2="154.1" stroke="#000" stroke-width="2.2"/><path d="M256,155.5 L243.0,159.1 L244.1,149.1 Z" fill="#000"/><line x1="313.6" y1="173.3" x2="305.4" y2="190.7" stroke="#000" stroke-width="2.2"/><path d="M300,202 L300.8,188.6 L309.9,192.8 Z" fill="#000"/><line x1="306.2" y1="289" x2="296.6" y2="273.4" stroke="#000" stroke-width="2.2"/><path d="M290,262.8 L300.8,270.8 L292.3,276.1 Z" fill="#000"/><line x1="467.9" y1="284" x2="434.8" y2="248.4" stroke="#000" stroke-width="2.2"/><path d="M426.3,239.2 L438.5,245.0 L431.1,251.8 Z" fill="#000"/><path d="M160.3,410 L160.3,454 Q160.3,477.3 184,477.3 L237,477.3" fill="none" stroke="#000" stroke-width="2.2"/><path d="M249.4,477.3 L236.9,482.3 L236.9,472.3 Z" fill="#000"/><line x1="311.4" y1="477.6" x2="361.0" y2="477.6" stroke="#000" stroke-width="2.2"/><path d="M373.5,477.6 L361.0,482.6 L361.0,472.6 Z" fill="#000"/><line x1="480" y1="477.7" x2="534.2" y2="477.7" stroke="#000" stroke-width="2.2"/><path d="M546.7,477.7 L534.2,482.7 L534.2,472.7 Z" fill="#000"/><line x1="646.4" y1="477.7" x2="777.6" y2="477.7" stroke="#000" stroke-width="2.2"/><path d="M790.1,477.7 L777.6,482.7 L777.6,472.7 Z" fill="#000"/><text x="714" y="471.8" text-anchor="middle" font-size="39">x</text><line x1="907.2" y1="477.8" x2="991.9" y2="477.8" stroke="#000" stroke-width="2.2"/><path d="M1004.4,477.8 L991.9,482.8 L991.9,472.8 Z" fill="#000"/><text x="948" y="469.4" text-anchor="middle" font-size="39">z</text><line x1="1078.8" y1="477.6" x2="1225.9" y2="477.6" stroke="#000" stroke-width="2.2"/><path d="M1238.4,477.6 L1225.9,482.6 L1225.9,472.6 Z" fill="#000"/><text x="1163" y="472" text-anchor="middle" font-size="39">t</text><circle cx="589.9" cy="472" r="44" fill="#ff9a05" stroke="#000" stroke-width="2"/><circle cx="587.9" cy="446.6" r="8.3" fill="none" stroke="#000" stroke-width="2"/><circle cx="587.9" cy="446.6" r="2.2" fill="#000"/><circle cx="606.5" cy="451.9" r="8.3" fill="none" stroke="#000" stroke-width="2"/><circle cx="606.5" cy="451.9" r="2.2" fill="#000"/><circle cx="566.6" cy="459.1" r="8.3" fill="none" stroke="#000" stroke-width="2"/><circle cx="566.6" cy="459.1" r="2.2" fill="#000"/><circle cx="589.2" cy="471.8" r="8.3" fill="none" stroke="#000" stroke-width="2"/><circle cx="589.2" cy="471.8" r="2.2" fill="#000"/><circle cx="617.2" cy="469.7" r="8.3" fill="none" stroke="#000" stroke-width="2"/><circle cx="617.2" cy="469.7" r="2.2" fill="#000"/><circle cx="564.5" cy="484.6" r="8.3" fill="none" stroke="#000" stroke-width="2"/><circle cx="564.5" cy="484.6" r="2.2" fill="#000"/><circle cx="608.7" cy="490.5" r="8.3" fill="none" stroke="#000" stroke-width="2"/><circle cx="608.7" cy="490.5" r="2.2" fill="#000"/><circle cx="582.6" cy="499.8" r="8.3" fill="none" stroke="#000" stroke-width="2"/><circle cx="582.6" cy="499.8" r="2.2" fill="#000"/><circle cx="844" cy="475.1" r="49.5" fill="#ff9a05" stroke="#000" stroke-width="2"/><g transform="translate(822.6,458.4) rotate(0)"><circle cx="-4.9" cy="-4.9" r="6.8" fill="#2a0e00" stroke="#2a0e00" stroke-width="3.4"/><circle cx="4.9" cy="-4.9" r="6.8" fill="#2a0e00" stroke="#2a0e00" stroke-width="3.4"/><circle cx="-4.9" cy="4.9" r="6.8" fill="#2a0e00" stroke="#2a0e00" stroke-width="3.4"/><circle cx="4.9" cy="4.9" r="6.8" fill="#2a0e00" stroke="#2a0e00" stroke-width="3.4"/><circle cx="-4.9" cy="-4.9" r="6.8" fill="#c9802e"/><circle cx="4.9" cy="-4.9" r="6.8" fill="#c9802e"/><circle cx="-4.9" cy="4.9" r="6.8" fill="#c9802e"/><circle cx="4.9" cy="4.9" r="6.8" fill="#c9802e"/><path d="M0,-11.5 L0,11.5 M-11.5,0 L11.5,0" stroke="#2a0e00" stroke-width="1.9"/><circle cx="-5.5" cy="-5.5" r="1.4" fill="#000"/><circle cx="5.5" cy="-5.5" r="1.4" fill="#000"/><circle cx="-5.5" cy="5.5" r="1.4" fill="#000"/><circle cx="5.5" cy="5.5" r="1.4" fill="#000"/></g><g transform="translate(862.6,456.3) rotate(32)"><circle cx="-4.9" cy="-4.9" r="6.8" fill="#2a0e00" stroke="#2a0e00" stroke-width="3.4"/><circle cx="4.9" cy="-4.9" r="6.8" fill="#2a0e00" stroke="#2a0e00" stroke-width="3.4"/><circle cx="-4.9" cy="4.9" r="6.8" fill="#2a0e00" stroke="#2a0e00" stroke-width="3.4"/><circle cx="4.9" cy="4.9" r="6.8" fill="#2a0e00" stroke="#2a0e00" stroke-width="3.4"/><circle cx="-4.9" cy="-4.9" r="6.8" fill="#c9802e"/><circle cx="4.9" cy="-4.9" r="6.8" fill="#c9802e"/><circle cx="-4.9" cy="4.9" r="6.8" fill="#c9802e"/><circle cx="4.9" cy="4.9" r="6.8" fill="#c9802e"/><path d="M0,-11.5 L0,11.5 M-11.5,0 L11.5,0" stroke="#2a0e00" stroke-width="1.9"/><circle cx="-5.5" cy="-5.5" r="1.4" fill="#000"/><circle cx="5.5" cy="-5.5" r="1.4" fill="#000"/><circle cx="-5.5" cy="5.5" r="1.4" fill="#000"/><circle cx="5.5" cy="5.5" r="1.4" fill="#000"/></g><g transform="translate(826.3,493.7) rotate(0)"><circle cx="-4.9" cy="-4.9" r="6.8" fill="#2a0e00" stroke="#2a0e00" stroke-width="3.4"/><circle cx="4.9" cy="-4.9" r="6.8" fill="#2a0e00" stroke="#2a0e00" stroke-width="3.4"/><circle cx="-4.9" cy="4.9" r="6.8" fill="#2a0e00" stroke="#2a0e00" stroke-width="3.4"/><circle cx="4.9" cy="4.9" r="6.8" fill="#2a0e00" stroke="#2a0e00" stroke-width="3.4"/><circle cx="-4.9" cy="-4.9" r="6.8" fill="#c9802e"/><circle cx="4.9" cy="-4.9" r="6.8" fill="#c9802e"/><circle cx="-4.9" cy="4.9" r="6.8" fill="#c9802e"/><circle cx="4.9" cy="4.9" r="6.8" fill="#c9802e"/><path d="M0,-11.5 L0,11.5 M-11.5,0 L11.5,0" stroke="#2a0e00" stroke-width="1.9"/><circle cx="-5.5" cy="-5.5" r="1.4" fill="#000"/><circle cx="5.5" cy="-5.5" r="1.4" fill="#000"/><circle cx="-5.5" cy="5.5" r="1.4" fill="#000"/><circle cx="5.5" cy="5.5" r="1.4" fill="#000"/></g><g transform="translate(864,491.6) rotate(35)"><circle cx="-4.9" cy="-4.9" r="6.8" fill="#2a0e00" stroke="#2a0e00" stroke-width="3.4"/><circle cx="4.9" cy="-4.9" r="6.8" fill="#2a0e00" stroke="#2a0e00" stroke-width="3.4"/><circle cx="-4.9" cy="4.9" r="6.8" fill="#2a0e00" stroke="#2a0e00" stroke-width="3.4"/><circle cx="4.9" cy="4.9" r="6.8" fill="#2a0e00" stroke="#2a0e00" stroke-width="3.4"/><circle cx="-4.9" cy="-4.9" r="6.8" fill="#c9802e"/><circle cx="4.9" cy="-4.9" r="6.8" fill="#c9802e"/><circle cx="-4.9" cy="4.9" r="6.8" fill="#c9802e"/><circle cx="4.9" cy="4.9" r="6.8" fill="#c9802e"/><path d="M0,-11.5 L0,11.5 M-11.5,0 L11.5,0" stroke="#2a0e00" stroke-width="1.9"/><circle cx="-5.5" cy="-5.5" r="1.4" fill="#000"/><circle cx="5.5" cy="-5.5" r="1.4" fill="#000"/><circle cx="-5.5" cy="5.5" r="1.4" fill="#000"/><circle cx="5.5" cy="5.5" r="1.4" fill="#000"/></g><ellipse cx="1037" cy="472.4" rx="30.6" ry="47.3" fill="#ff9900" stroke="#000" stroke-width="1.6"/><path d="M1067.1,472.4 L1070.6,472.4 M1067.1,474.8 L1070.3,474.9 M1067.0,476.4 L1070.6,476.6 M1066.9,478.1 L1070.2,478.4 M1066.6,480.5 L1070.8,481.0 M1066.5,482.0 L1069.3,482.4 M1066.2,483.9 L1070.3,484.6 M1065.7,486.4 L1067.8,486.8 M1065.2,488.6 L1069.7,489.6 M1064.8,490.2 L1068.4,491.1 M1064.5,491.6 L1066.4,492.1 M1063.8,493.7 L1065.8,494.4 M1063.3,495.2 L1065.8,496.1 M1062.7,496.8 L1065.7,498.0 M1061.8,498.8 L1065.8,500.5 M1061.1,500.5 L1064.4,502.1 M1060.3,502.1 L1063.6,503.8 M1059.5,503.5 L1061.8,504.9 M1058.3,505.4 L1062.3,507.9 M1057.5,506.7 L1060.7,508.9 M1056.8,507.7 L1058.9,509.2 M1055.8,508.9 L1057.5,510.3 M1054.5,510.4 L1056.8,512.5 M1053.4,511.6 L1055.6,513.7 M1052.3,512.7 L1055.2,515.9 M1051.7,513.3 L1053.4,515.2 M1050.0,514.6 L1052.0,517.2 M1048.8,515.4 L1050.5,518.0 M1048.2,515.9 L1050.1,519.0 M1046.6,516.8 L1047.8,519.2 M1045.7,517.2 L1047.0,519.8 M1044.0,517.9 L1045.4,521.7 M1043.2,518.2 L1044.1,520.7 M1042.0,518.5 L1042.5,520.6 M1040.3,518.9 L1040.7,521.4 M1039.2,519.1 L1039.6,522.3 M1038.1,519.2 L1038.4,523.1 M1036.9,519.2 L1036.9,522.9 M1035.6,519.2 L1035.4,522.3 M1034.3,519.0 L1033.9,521.7 M1032.6,518.7 L1031.7,522.8 M1031.7,518.5 L1030.5,522.7 M1030.5,518.1 L1029.5,521.0 M1028.9,517.5 L1027.4,520.9 M1028.1,517.1 L1026.1,521.3 M1026.8,516.4 L1025.5,518.8 M1025.3,515.5 L1023.8,517.9 M1024.4,514.9 L1023.1,516.7 M1023.4,514.1 L1021.2,516.9 M1022.2,513.1 L1019.8,515.8 M1021.0,512.0 L1018.7,514.3 M1019.6,510.6 L1017.2,512.8 M1018.8,509.6 L1015.5,512.4 M1018.0,508.6 L1016.1,510.1 M1016.7,506.9 L1013.2,509.3 M1016.0,505.9 L1013.9,507.3 M1014.9,504.2 L1011.0,506.5 M1014.3,503.0 L1010.3,505.3 M1013.2,501.0 L1009.9,502.6 M1012.6,499.7 L1010.5,500.7 M1012.0,498.4 L1007.7,500.2 M1011.2,496.5 L1007.6,497.9 M1010.6,494.8 L1006.6,496.2 M1009.9,492.7 L1007.2,493.5 M1009.4,491.2 L1005.7,492.3 M1009.0,489.5 L1006.4,490.1 M1008.4,487.1 L1004.2,488.0 M1008.0,485.2 L1005.3,485.7 M1007.7,483.0 L1005.2,483.3 M1007.5,481.8 L1004.8,482.2 M1007.2,479.5 L1005.1,479.7 M1007.1,477.7 L1004.1,477.9 M1007.0,475.3 L1004.6,475.4 M1006.9,473.5 L1002.5,473.6 M1006.9,470.9 L1003.1,470.9 M1007.0,469.2 L1003.4,469.1 M1007.1,467.7 L1005.0,467.6 M1007.2,465.8 L1002.8,465.4 M1007.5,463.2 L1002.9,462.6 M1007.7,461.9 L1004.0,461.4 M1008.1,459.5 L1004.2,458.8 M1008.4,457.8 L1003.8,456.8 M1008.8,456.1 L1005.4,455.3 M1009.4,453.6 L1005.2,452.4 M1010.0,451.8 L1006.3,450.7 M1010.6,450.0 L1006.4,448.5 M1011.1,448.6 L1007.5,447.2 M1011.9,446.5 L1007.9,444.8 M1012.5,445.2 L1008.8,443.5 M1013.5,443.3 L1010.3,441.6 M1014.2,441.9 L1011.5,440.4 M1015.0,440.4 L1011.9,438.5 M1015.7,439.3 L1012.6,437.3 M1017.1,437.4 L1013.5,434.8 M1017.9,436.2 L1015.5,434.3 M1018.9,435.0 L1016.2,432.7 M1019.8,434.0 L1016.7,431.1 M1020.7,433.1 L1017.9,430.2 M1021.8,432.0 L1019.3,429.4 M1023.2,430.9 L1021.5,428.8 M1024.4,429.9 L1022.5,427.2 M1025.5,429.1 L1023.1,425.4 M1026.5,428.5 L1025.5,426.8 M1027.8,427.9 L1026.1,424.4 M1028.9,427.3 L1028.0,425.1 M1030.6,426.7 L1029.4,423.1 M1031.6,426.4 L1030.4,422.1 M1032.8,426.1 L1031.9,422.4 M1034.0,425.8 L1033.5,422.7 M1035.6,425.7 L1035.3,421.2 M1036.9,425.6 L1036.9,422.6 M1038.0,425.6 L1038.2,422.8 M1039.0,425.7 L1039.4,422.4 M1040.7,426.0 L1041.5,421.7 M1041.9,426.2 L1043.0,421.8 M1042.9,426.5 L1043.6,424.2 M1044.2,427.0 L1045.2,424.4 M1045.3,427.4 L1046.6,424.6 M1046.8,428.2 L1048.4,425.2 M1047.8,428.7 L1050.0,425.1 M1049.4,429.7 L1051.2,427.1 M1050.0,430.2 L1051.3,428.6 M1051.6,431.5 L1053.0,429.9 M1052.6,432.4 L1055.1,429.8 M1053.5,433.3 L1056.5,430.4 M1054.4,434.3 L1056.2,432.7 M1055.7,435.7 L1057.3,434.4 M1056.8,437.2 L1059.0,435.7 M1057.5,438.1 L1059.2,436.9 M1058.6,439.8 L1061.3,438.2 M1059.5,441.3 L1062.8,439.4 M1060.4,443.0 L1064.5,440.9 M1061.1,444.5 L1063.4,443.4 M1061.8,445.9 L1064.1,444.9 M1062.4,447.2 L1065.4,446.0 M1063.3,449.5 L1065.6,448.7 M1063.7,450.9 L1066.5,450.0 M1064.4,453.1 L1067.7,452.1 M1064.9,454.9 L1068.8,453.9 M1065.3,456.6 L1069.4,455.6 M1065.8,458.9 L1068.0,458.5 M1066.2,460.9 L1070.1,460.2 M1066.4,462.1 L1069.6,461.6 M1066.7,464.5 L1071.1,464.0 M1066.8,466.3 L1070.4,466.0 M1067.0,468.7 L1071.2,468.5 M1067.1,470.8 L1070.3,470.7" stroke="#000" stroke-width="1.1" fill="none"/><ellipse cx="1025.1" cy="472.5" rx="8" ry="10" fill="#000"/><ellipse cx="1048.6" cy="469.4" rx="7.2" ry="18.5" fill="#d9820f" stroke="#000" stroke-width="2"/><circle cx="979.7" cy="409.6" r="35" fill="none" stroke="#000" stroke-width="2.3"/><text x="0" y="0" transform="translate(979.7,423.40000000000003) scale(0.96,1)" text-anchor="middle" font-size="44">12а</text><circle cx="1104.1" cy="422" r="34.7" fill="none" stroke="#000" stroke-width="2.3"/><text x="0" y="0" transform="translate(1104.1,435.8) scale(0.96,1)" text-anchor="middle" font-size="44">12б</text><line x1="998.4" y1="438.3" x2="1011.3" y2="453.0" stroke="#000" stroke-width="2.2"/><path d="M1019.5,462.4 L1007.5,456.3 L1015.0,449.7 Z" fill="#000"/><line x1="1072.8" y1="441.3" x2="1065.6" y2="445.3" stroke="#000" stroke-width="2.2"/><path d="M1054.7,451.4 L1063.2,440.9 L1068.1,449.7 Z" fill="#000"/><circle cx="33.6" cy="428.5" r="24.3" fill="none" stroke="#000" stroke-width="2.3"/><text x="0" y="0" transform="translate(33.6,442.3) scale(0.92,1)" text-anchor="middle" font-size="44">1</text><circle cx="292" cy="519" r="24.3" fill="none" stroke="#000" stroke-width="2.3"/><text x="0" y="0" transform="translate(292,532.8) scale(0.92,1)" text-anchor="middle" font-size="44">8</text><circle cx="423.3" cy="539.9" r="24.3" fill="none" stroke="#000" stroke-width="2.3"/><text x="0" y="0" transform="translate(423.3,553.6999999999999) scale(0.92,1)" text-anchor="middle" font-size="44">9</text><circle cx="593.9" cy="550.3" r="24.3" fill="none" stroke="#000" stroke-width="2.3"/><text x="0" y="0" transform="translate(593.9,564.0999999999999) scale(0.92,1)" text-anchor="middle" font-size="44">10</text><circle cx="850" cy="559.7" r="24.3" fill="none" stroke="#000" stroke-width="2.3"/><text x="0" y="0" transform="translate(850,573.5) scale(0.92,1)" text-anchor="middle" font-size="44">11</text><circle cx="1040.6" cy="553.4" r="24.3" fill="none" stroke="#000" stroke-width="2.3"/><text x="0" y="0" transform="translate(1040.6,567.1999999999999) scale(0.92,1)" text-anchor="middle" font-size="44">12</text><path d="M1241.8,475.0 C1242.1,476.0 1243.1,476.8 1243.7,481.0 C1244.3,485.2 1245.2,486.8 1245.5,500.0 C1245.8,513.2 1245.8,534.8 1245.8,560.0 C1245.8,585.2 1247.7,632.0 1245.8,651.4 C1243.9,670.8 1241.1,668.2 1234.6,676.3 C1228.1,684.4 1215.0,689.2 1207.0,700.0 C1199.0,710.8 1190.7,728.6 1186.6,741.0 C1182.5,753.4 1182.5,762.7 1182.5,774.2 C1182.5,785.8 1182.7,798.3 1186.6,810.3 C1190.5,822.3 1198.1,835.7 1206.0,846.3 C1213.9,856.9 1228.2,866.1 1233.8,874.0 C1239.3,881.9 1238.4,887.4 1239.3,893.4 C1240.2,899.4 1239.3,907.2 1239.3,910.0 L1283.7,910.0 C1283.7,906.8 1282.8,897.2 1283.7,890.7 C1284.6,884.2 1284.6,878.7 1289.2,871.3 C1293.8,863.9 1304.0,856.5 1311.4,846.3 C1318.8,836.1 1328.8,823.2 1333.6,810.3 C1338.4,797.3 1340.0,782.0 1340.5,768.6 C1341.0,755.2 1340.3,742.7 1336.4,729.8 C1332.5,716.9 1323.2,699.9 1317.0,691.0 C1310.8,682.1 1304.3,682.9 1299.3,676.3 C1294.3,669.7 1289.4,661.8 1286.9,651.4 C1284.4,641.0 1285.1,639.2 1284.4,614.0 C1283.8,588.8 1283.1,522.2 1283.0,500.0 C1282.9,477.8 1283.2,485.0 1284.0,481.0 C1284.8,477.0 1287.3,476.8 1288.0,476.0 C1290.5,473 1288,469.5 1282,469.5 L1248,469 C1243,469 1239.5,470 1241.8,475 Z" fill="#05c752"/><path d="M1241.8,475.0 C1242.1,476.0 1243.1,476.8 1243.7,481.0 C1244.3,485.2 1245.2,486.8 1245.5,500.0 C1245.8,513.2 1245.8,534.8 1245.8,560.0 C1245.8,585.2 1247.7,632.0 1245.8,651.4 C1243.9,670.8 1241.1,668.2 1234.6,676.3 C1228.1,684.4 1215.0,689.2 1207.0,700.0 C1199.0,710.8 1190.7,728.6 1186.6,741.0 C1182.5,753.4 1182.5,762.7 1182.5,774.2 C1182.5,785.8 1182.7,798.3 1186.6,810.3 C1190.5,822.3 1198.1,835.7 1206.0,846.3 C1213.9,856.9 1228.2,866.1 1233.8,874.0 C1239.3,881.9 1238.4,887.4 1239.3,893.4 C1240.2,899.4 1239.3,907.2 1239.3,910.0" fill="none" stroke="#000" stroke-width="2"/><path d="M1288.0,476.0 C1287.3,476.8 1284.8,477.0 1284.0,481.0 C1283.2,485.0 1282.9,477.8 1283.0,500.0 C1283.1,522.2 1283.8,588.8 1284.4,614.0 C1285.1,639.2 1284.4,641.0 1286.9,651.4 C1289.4,661.8 1294.3,669.7 1299.3,676.3 C1304.3,682.9 1310.8,682.1 1317.0,691.0 C1323.2,699.9 1332.5,716.9 1336.4,729.8 C1340.3,742.7 1341.0,755.2 1340.5,768.6 C1340.0,782.0 1338.4,797.3 1333.6,810.3 C1328.8,823.2 1318.8,836.1 1311.4,846.3 C1304.0,856.5 1293.8,863.9 1289.2,871.3 C1284.6,878.7 1284.6,884.2 1283.7,890.7 C1282.8,897.2 1283.7,906.8 1283.7,910.0" fill="none" stroke="#000" stroke-width="2"/><path d="M1241.8,475 C1239.5,470 1243,469 1248,469 L1282,469.5 C1288,469.5 1290.5,473 1288,476" fill="none" stroke="#000" stroke-width="2"/><path d="M1243.2,853.3 C1240.7,850.4 1233.4,842.5 1228.0,836.0 C1222.6,829.5 1215.4,821.7 1211.0,814.0 C1206.6,806.3 1203.6,798.1 1201.5,790.0 C1199.4,781.9 1198.3,775.8 1198.2,765.3 C1198.1,754.8 1198.5,737.9 1201.0,727.0 C1203.5,716.1 1207.3,708.1 1213.0,700.0 C1218.7,691.9 1226.8,683.7 1235.0,678.5 C1243.2,673.3 1253.1,669.6 1262.3,668.6 C1271.5,667.6 1281.9,669.1 1290.0,672.5 C1298.1,675.9 1305.5,682.1 1311.0,689.0 C1316.5,695.9 1320.1,704.5 1323.0,714.0 C1325.9,723.5 1327.7,732.7 1328.4,746.0 C1329.1,759.3 1329.1,780.7 1327.0,794.0 C1324.9,807.3 1320.8,817.8 1316.0,826.0 C1311.2,834.2 1305.0,839.5 1298.0,843.5 C1291.0,847.5 1280.2,849.6 1274.0,850.0 C1267.8,850.4 1264.4,848.0 1261.0,846.0 C1257.6,844.0 1254.3,840.6 1253.5,838.0 C1252.7,835.4 1254.8,832.1 1256.0,830.5 C1257.2,828.9 1261.1,830.1 1260.4,828.5 C1259.7,826.9 1254.9,823.6 1252.0,821.0 C1249.1,818.4 1244.7,814.4 1243.2,813.1 Z" fill="#07982a"/><path d="M1243.2,853.3 C1240.7,850.4 1233.4,842.5 1228.0,836.0 C1222.6,829.5 1215.4,821.7 1211.0,814.0 C1206.6,806.3 1203.6,798.1 1201.5,790.0 C1199.4,781.9 1198.3,775.8 1198.2,765.3 C1198.1,754.8 1198.5,737.9 1201.0,727.0 C1203.5,716.1 1207.3,708.1 1213.0,700.0 C1218.7,691.9 1226.8,683.7 1235.0,678.5 C1243.2,673.3 1253.1,669.6 1262.3,668.6 C1271.5,667.6 1281.9,669.1 1290.0,672.5 C1298.1,675.9 1305.5,682.1 1311.0,689.0 C1316.5,695.9 1320.1,704.5 1323.0,714.0 C1325.9,723.5 1327.7,732.7 1328.4,746.0 C1329.1,759.3 1329.1,780.7 1327.0,794.0 C1324.9,807.3 1320.8,817.8 1316.0,826.0 C1311.2,834.2 1305.0,839.5 1298.0,843.5 C1291.0,847.5 1280.2,849.6 1274.0,850.0 C1267.8,850.4 1264.4,848.0 1261.0,846.0 C1257.6,844.0 1254.3,840.6 1253.5,838.0 C1252.7,835.4 1254.8,832.1 1256.0,830.5 C1257.2,828.9 1261.1,830.1 1260.4,828.5 C1259.7,826.9 1254.9,823.6 1252.0,821.0 C1249.1,818.4 1244.7,814.4 1243.2,813.1" fill="none" stroke="#000" stroke-width="2" stroke-linejoin="round"/><path d="M1243.2,853.3 C1241.7,848.2 1237.8,834.5 1234.0,823.0 C1230.2,811.5 1223.3,797.2 1220.5,784.4 C1217.7,771.6 1216.7,758.8 1217.3,746.1 C1217.9,733.4 1220.2,717.4 1224.0,708.0 C1227.8,698.6 1233.6,694.0 1240.0,690.0 C1246.4,686.0 1254.3,684.3 1262.3,684.0 C1270.3,683.7 1281.0,684.5 1288.0,688.0 C1295.0,691.5 1300.2,697.2 1304.0,705.0 C1307.8,712.8 1309.8,724.2 1311.0,735.0 C1312.2,745.8 1312.0,759.2 1311.5,770.0 C1311.0,780.8 1310.2,791.7 1308.0,800.0 C1305.8,808.3 1301.7,814.4 1298.0,820.0 C1294.3,825.6 1289.1,831.2 1286.0,833.5 C1282.9,835.8 1280.5,834.8 1279.5,834.0 C1278.5,833.2 1277.9,831.8 1280.0,829.0 C1282.1,826.2 1290.0,819.0 1292.0,817.0 L1296,811.2 L1305,755 L1264,691 L1223,755 L1243.2,813.1 L1252,821 L1260.4,828.5 L1256,830.5 L1253.5,838 L1261,846 Z" fill="#05c752"/><path d="M1243.2,853.3 C1241.7,848.2 1237.8,834.5 1234.0,823.0 C1230.2,811.5 1223.3,797.2 1220.5,784.4 C1217.7,771.6 1216.7,758.8 1217.3,746.1 C1217.9,733.4 1220.2,717.4 1224.0,708.0 C1227.8,698.6 1233.6,694.0 1240.0,690.0 C1246.4,686.0 1254.3,684.3 1262.3,684.0 C1270.3,683.7 1281.0,684.5 1288.0,688.0 C1295.0,691.5 1300.2,697.2 1304.0,705.0 C1307.8,712.8 1309.8,724.2 1311.0,735.0 C1312.2,745.8 1312.0,759.2 1311.5,770.0 C1311.0,780.8 1310.2,791.7 1308.0,800.0 C1305.8,808.3 1301.7,814.4 1298.0,820.0 C1294.3,825.6 1289.1,831.2 1286.0,833.5 C1282.9,835.8 1280.5,834.8 1279.5,834.0 C1278.5,833.2 1277.9,831.8 1280.0,829.0 C1282.1,826.2 1290.0,819.0 1292.0,817.0 L1296,811.2" fill="none" stroke="#000" stroke-width="2" stroke-linejoin="round"/><ellipse cx="1264.2" cy="755.2" rx="41.2" ry="63.6" fill="#c6f23c" stroke="#000" stroke-width="2"/><ellipse cx="1265.6" cy="754.8" rx="35" ry="58.3" fill="#02fa8a" stroke="#000" stroke-width="2"/><path d="M1236,716 C1236,700 1250,697 1265,697 C1282,697 1294,702 1294,712 C1282,714 1250,714 1236,716 Z" fill="#1fb56e" stroke="#000" stroke-width="2"/><path d="M1255,700 L1254,714 M1271,698 L1270,714" stroke="#000" stroke-width="1.8"/><circle cx="1247" cy="708.8" r="1.8" fill="#000"/><circle cx="1262.3" cy="704.5" r="1.8" fill="#000"/><circle cx="1279" cy="706" r="1.8" fill="#000"/><circle cx="1265" cy="748" r="3.3" fill="#000"/><circle cx="1268.5" cy="752" r="3.3" fill="#000"/><circle cx="1263" cy="753.5" r="3" fill="#000"/><circle cx="1259.4" cy="753" r="2.8" fill="#c6f23c" stroke="#000" stroke-width="1.2"/><ellipse cx="1249" cy="798" rx="7.5" ry="8.5" fill="#1fb56e" stroke="#000" stroke-width="2"/><ellipse cx="1279.5" cy="800.7" rx="8" ry="10" fill="#1fb56e" stroke="#000" stroke-width="2"/><circle cx="1281" cy="801" r="1.8" fill="#000"/><ellipse cx="1264.2" cy="794" rx="8" ry="11" fill="#149a42" stroke="#000" stroke-width="2"/><circle cx="1264.5" cy="799" r="2.5" fill="#c6f23c" stroke="#000" stroke-width="1.2"/><path d="M1274.0,466.0 C1274.0,468.3 1274.0,464.3 1274.0,480.0 C1274.0,495.7 1274.1,533.5 1274.2,560.0 C1274.3,586.5 1273.4,619.2 1274.6,639.0 C1275.8,658.8 1276.8,668.2 1281.5,679.0 C1286.2,689.8 1296.8,695.7 1302.5,704.0 C1308.2,712.3 1313.0,720.4 1316.0,729.0 C1319.0,737.6 1320.1,744.9 1320.7,755.7 C1321.3,766.5 1321.5,782.2 1319.7,794.0 C1318.0,805.8 1314.3,818.2 1310.2,826.5 C1306.1,834.8 1300.7,840.8 1294.9,843.8 C1289.2,846.8 1280.2,846.6 1275.7,844.7 C1271.2,842.8 1269.4,838.8 1268.0,832.3 C1266.6,825.8 1267.2,810.0 1267.1,805.5" fill="none" stroke="#000" stroke-width="5" stroke-linecap="round"/><path d="M1274.0,466.0 C1274.0,468.3 1274.0,464.3 1274.0,480.0 C1274.0,495.7 1274.1,533.5 1274.2,560.0 C1274.3,586.5 1273.4,619.2 1274.6,639.0 C1275.8,658.8 1276.8,668.2 1281.5,679.0 C1286.2,689.8 1296.8,695.7 1302.5,704.0 C1308.2,712.3 1313.0,720.4 1316.0,729.0 C1319.0,737.6 1320.1,744.9 1320.7,755.7 C1321.3,766.5 1321.5,782.2 1319.7,794.0 C1318.0,805.8 1314.3,818.2 1310.2,826.5 C1306.1,834.8 1300.7,840.8 1294.9,843.8 C1289.2,846.8 1280.2,846.6 1275.7,844.7 C1271.2,842.8 1269.4,838.8 1268.0,832.3 C1266.6,825.8 1267.2,810.0 1267.1,805.5" fill="none" stroke="#e3a040" stroke-width="2.4" stroke-linecap="round"/><path d="M1253.5,468 C1254,480 1260,490 1259.5,501 C1259,509 1256,513 1256,519" fill="none" stroke="#000" stroke-width="4.6" stroke-linecap="round"/><path d="M1253.5,468 C1254,480 1260,490 1259.5,501 C1259,509 1256,513 1256,519" fill="none" stroke="#dba456" stroke-width="2.1" stroke-linecap="round"/><circle cx="1253.5" cy="462.7" r="6.6" fill="#ff9900" stroke="#1a0800" stroke-width="1.8"/><circle cx="1273.6" cy="463" r="7.5" fill="#ff9900" stroke="#1a0800" stroke-width="1.8"/><path d="M1239.5,905.6 C1255,903 1266,895 1267,879" fill="none" stroke="#000" stroke-width="1.8"/><circle cx="1258" cy="941.9" r="24.3" fill="none" stroke="#000" stroke-width="2.3"/><text x="0" y="0" transform="translate(1258,955.6999999999999) scale(0.92,1)" text-anchor="middle" font-size="44">13</text><circle cx="1345.7" cy="642.7" r="24.3" fill="none" stroke="#000" stroke-width="2.3"/><text x="0" y="0" transform="translate(1345.7,656.5) scale(0.92,1)" text-anchor="middle" font-size="44">20</text><circle cx="1376.6" cy="705.6" r="24.3" fill="none" stroke="#000" stroke-width="2.3"/><text x="0" y="0" transform="translate(1376.6,719.4) scale(0.92,1)" text-anchor="middle" font-size="44">21</text><circle cx="1151" cy="763.1" r="24.3" fill="none" stroke="#000" stroke-width="2.3"/><text x="0" y="0" transform="translate(1151,776.9) scale(0.92,1)" text-anchor="middle" font-size="44">18</text><circle cx="1375.8" cy="809.1" r="24.3" fill="none" stroke="#000" stroke-width="2.3"/><text x="0" y="0" transform="translate(1375.8,822.9) scale(0.92,1)" text-anchor="middle" font-size="44">22</text><circle cx="1158.1" cy="833.9" r="24.3" fill="none" stroke="#000" stroke-width="2.3"/><text x="0" y="0" transform="translate(1158.1,847.6999999999999) scale(0.92,1)" text-anchor="middle" font-size="44">23</text><line x1="1323.5" y1="659.6" x2="1288.1" y2="695.0" stroke="#000" stroke-width="2.2"/><path d="M1279.3,703.8 L1284.6,691.4 L1291.7,698.5 Z" fill="#000"/><line x1="1351.9" y1="716.2" x2="1282.1" y2="742.0" stroke="#000" stroke-width="2.2"/><path d="M1270.4,746.3 L1280.4,737.3 L1283.9,746.7 Z" fill="#000"/><line x1="1174.9" y1="758.7" x2="1240.2" y2="754.2" stroke="#000" stroke-width="2.2"/><path d="M1252.7,753.4 L1240.6,759.2 L1239.9,749.3 Z" fill="#000"/><line x1="1174.9" y1="768.6" x2="1247.8" y2="788.9" stroke="#000" stroke-width="2.2"/><path d="M1259.8,792.3 L1246.4,793.8 L1249.1,784.1 Z" fill="#000"/><line x1="1351.9" y1="806.5" x2="1301.5" y2="796.5" stroke="#000" stroke-width="2.2"/><path d="M1289.2,794.1 L1302.4,791.6 L1300.5,801.4 Z" fill="#000"/><line x1="1182" y1="831.2" x2="1242.3" y2="806.0" stroke="#000" stroke-width="2.2"/><path d="M1253.8,801.2 L1244.2,810.6 L1240.3,801.4 Z" fill="#000"/><path d="M1064.5,684 C1064,700 1063,740 1062,764 C1060,790 1054,805 1054,820 C1054,832 1058,837 1062,836 C1068,834 1072,826 1075,815 C1077,800 1077,780 1077,764 C1077,740 1078,710 1079.4,689" fill="#ff9900" stroke="#000" stroke-width="2"/><ellipse cx="1086.9" cy="651.6" rx="38.6" ry="40.5" fill="#ff9900" stroke="#000" stroke-width="1.6"/><path d="M1125.0,651.6 L1128.8,651.6 M1125.0,653.5 L1127.3,653.6 M1124.9,654.7 L1127.9,654.9 M1124.7,656.6 L1128.9,657.1 M1124.4,658.6 L1128.0,659.2 M1124.1,660.2 L1127.8,661.0 M1123.8,661.5 L1126.9,662.3 M1123.4,663.2 L1127.6,664.5 M1122.9,664.8 L1126.9,666.1 M1122.3,666.4 L1125.9,667.8 M1121.6,668.2 L1124.4,669.4 M1120.7,670.1 L1122.5,671.0 M1120.2,671.1 L1124.1,673.1 M1119.2,672.8 L1121.1,674.0 M1118.1,674.6 L1121.9,677.1 M1117.5,675.4 L1120.1,677.2 M1116.5,676.8 L1118.7,678.5 M1115.2,678.4 L1117.0,680.0 M1114.0,679.7 L1115.6,681.2 M1113.1,680.6 L1116.1,683.6 M1111.8,681.9 L1113.9,684.2 M1110.4,683.1 L1112.5,685.6 M1109.2,684.0 L1110.5,685.7 M1107.7,685.1 L1110.3,689.0 M1106.1,686.1 L1108.1,689.4 M1105.1,686.8 L1106.6,689.3 M1103.4,687.7 L1105.1,691.1 M1102.3,688.2 L1103.4,690.6 M1100.6,688.9 L1101.9,692.1 M1071.7,688.3 L1070.8,690.2 M1070.3,687.6 L1069.1,689.9 M1069.0,686.9 L1067.4,689.8 M1067.1,685.8 L1065.3,688.5 M1065.7,684.8 L1064.3,686.8 M1064.4,683.9 L1062.6,686.2 M1063.5,683.2 L1061.0,686.3 M1061.8,681.7 L1060.5,683.2 M1061.0,680.9 L1058.1,683.8 M1059.8,679.7 L1057.8,681.5 M1058.8,678.6 L1057.2,680.0 M1057.4,677.0 L1053.8,679.8 M1056.2,675.4 L1053.5,677.3 M1055.7,674.6 L1053.3,676.2 M1054.5,672.6 L1050.8,674.8 M1053.7,671.3 L1051.4,672.5 M1053.0,669.8 L1050.0,671.3 M1052.2,668.2 L1049.8,669.3 M1051.5,666.4 L1047.4,667.9 M1051.1,665.4 L1048.5,666.3 M1050.4,663.2 L1047.8,664.0 M1050.0,661.5 L1046.7,662.3 M1049.6,660.0 L1045.8,660.8 M1049.4,658.7 L1046.7,659.1 M1049.1,656.9 L1045.3,657.4 M1048.9,654.9 L1046.6,655.1 M1048.8,653.0 L1045.7,653.1 M1048.8,651.8 L1045.6,651.8 M1048.9,649.5 L1045.3,649.3 M1048.9,648.1 L1044.5,647.7 M1049.2,646.1 L1045.1,645.5 M1049.4,644.8 L1045.8,644.2 M1049.7,642.7 L1045.7,641.9 M1050.1,641.3 L1047.2,640.6 M1050.5,639.8 L1046.7,638.7 M1051.1,638.0 L1049.1,637.4 M1051.7,636.3 L1047.6,634.7 M1052.4,634.7 L1048.3,632.9 M1053.1,633.1 L1050.1,631.5 M1053.9,631.6 L1051.2,630.2 M1054.5,630.6 L1051.9,629.1 M1055.4,629.0 L1051.6,626.6 M1056.6,627.4 L1053.8,625.4 M1057.5,626.1 L1055.7,624.7 M1058.6,624.8 L1055.6,622.3 M1059.6,623.7 L1057.7,621.9 M1060.8,622.5 L1058.8,620.4 M1062.2,621.2 L1060.6,619.4 M1063.1,620.4 L1061.3,618.2 M1064.8,619.0 L1062.3,615.8 M1066.1,618.1 L1063.5,614.4 M1067.3,617.3 L1066.2,615.5 M1068.8,616.4 L1067.2,613.6 M1070.1,615.7 L1068.3,612.3 M1071.7,614.9 L1070.5,612.5 M1073.2,614.3 L1071.4,610.1 M1074.5,613.8 L1073.5,611.0 M1076.2,613.2 L1075.5,610.8 M1077.9,612.7 L1077.3,610.2 M1079.9,612.3 L1079.2,609.0 M1081.3,612.0 L1081.0,609.6 M1082.8,611.8 L1082.4,608.2 M1084.7,611.7 L1084.5,609.0 M1086.1,611.6 L1085.9,607.3 M1088.0,611.6 L1088.0,609.0 M1089.4,611.7 L1089.7,607.6 M1090.9,611.8 L1091.3,608.0 M1092.7,612.1 L1093.5,607.5 M1094.3,612.4 L1095.0,608.6 M1095.7,612.7 L1096.7,608.8 M1097.3,613.1 L1098.2,609.9 M1098.9,613.6 L1099.8,611.0 M1100.3,614.1 L1101.2,611.7 M1102.1,614.9 L1103.2,612.5 M1103.2,615.5 L1105.1,611.7 M1104.8,616.3 L1107.1,612.4 M1106.5,617.3 L1108.1,614.7 M1108.0,618.3 L1110.6,614.7 M1109.0,619.0 L1110.4,617.2 M1110.5,620.2 L1113.3,616.9 M1111.8,621.3 L1114.6,618.3 M1112.9,622.4 L1115.5,619.7 M1114.0,623.5 L1116.3,621.4 M1115.2,624.8 L1117.5,622.8 M1116.3,626.1 L1119.5,623.5 M1117.2,627.3 L1119.2,625.8 M1118.2,628.8 L1122.0,626.2 M1119.2,630.4 L1121.0,629.3 M1120.2,632.1 L1124.0,630.0 M1120.9,633.6 L1123.6,632.3 M1121.6,635.1 L1124.2,634.0 M1122.1,636.2 L1126.1,634.6 M1122.8,638.3 L1125.3,637.5 M1123.4,640.0 L1125.4,639.4 M1123.7,641.2 L1125.7,640.7 M1124.1,642.8 L1126.5,642.3 M1124.5,644.9 L1127.2,644.5 M1124.7,646.2 L1127.1,645.9 M1124.8,648.0 L1129.2,647.6 M1125.0,650.0 L1127.2,649.9" stroke="#000" stroke-width="1.1" fill="none"/><path d="M1065.5,686 C1068,690 1076,691 1078.5,686 L1078.5,700 L1065.5,700 Z" fill="#ff9900"/><ellipse cx="1072" cy="737" rx="3" ry="5.5" fill="none" stroke="#5a2a00" stroke-width="1.8"/><path d="M1069,737 L1075,737" stroke="#5a2a00" stroke-width="1.5"/><ellipse cx="1073.2" cy="754.2" rx="3" ry="5.5" fill="none" stroke="#5a2a00" stroke-width="1.8"/><path d="M1070.2,754.2 L1076.2,754.2" stroke="#5a2a00" stroke-width="1.5"/><ellipse cx="1069.5" cy="804" rx="4" ry="7.5" fill="#000"/><circle cx="1004.1" cy="701.3" r="24.3" fill="none" stroke="#000" stroke-width="2.3"/><text x="0" y="0" transform="translate(1004.1,715.0999999999999) scale(0.92,1)" text-anchor="middle" font-size="44">18</text><circle cx="990.5" cy="773.4" r="24.3" fill="none" stroke="#000" stroke-width="2.3"/><text x="0" y="0" transform="translate(990.5,787.1999999999999) scale(0.92,1)" text-anchor="middle" font-size="44">19</text><line x1="1023.4" y1="719.4" x2="1052.3" y2="726.4" stroke="#000" stroke-width="2.2"/><path d="M1064.5,729.3 L1051.2,731.2 L1053.5,721.5 Z" fill="#000"/><line x1="1023.4" y1="719.4" x2="1059.4" y2="745.6" stroke="#000" stroke-width="2.2"/><path d="M1069.5,753 L1056.5,749.7 L1062.3,741.6 Z" fill="#000"/><line x1="1012.2" y1="787.8" x2="1052.0" y2="799.2" stroke="#000" stroke-width="2.2"/><path d="M1064,802.7 L1050.6,804.0 L1053.4,794.4 Z" fill="#000"/><line x1="1246" y1="472.5" x2="1119.1" y2="605.8" stroke="#000" stroke-width="2.2"/><path d="M1110.5,614.9 L1115.5,602.4 L1122.7,609.3 Z" fill="#000"/><line x1="1254.5" y1="519.6" x2="1073.4" y2="823.1" stroke="#000" stroke-width="2.2"/><path d="M1067,833.8 L1069.1,820.5 L1077.7,825.6 Z" fill="#000"/><line x1="1238.6" y1="905.7" x2="934.9" y2="905.7" stroke="#000" stroke-width="2.2"/><path d="M922.4,905.7 L934.9,900.7 L934.9,910.7 Z" fill="#000"/><line x1="785.3" y1="905.8" x2="652.7" y2="905.8" stroke="#000" stroke-width="2.2"/><path d="M640.2,905.8 L652.7,900.8 L652.7,910.8 Z" fill="#000"/><text x="719" y="901.8" text-anchor="middle" font-size="39">z</text><line x1="504.2" y1="905.8" x2="370.1" y2="905.8" stroke="#000" stroke-width="2.2"/><path d="M357.6,905.8 L370.1,900.8 L370.1,910.8 Z" fill="#000"/><text x="434.5" y="900.3" text-anchor="middle" font-size="39">z</text><path d="M222.4,905.6 L139,905.6 Q111.7,905.6 111.7,878 L111.7,826" fill="none" stroke="#000" stroke-width="2.2"/><path d="M111.7,814.2 L116.7,826.7 L106.7,826.7 Z" fill="#000"/><line x1="111.7" y1="650.8" x2="111.7" y2="563.5" stroke="#000" stroke-width="2.2"/><path d="M111.7,551 L116.7,563.5 L106.7,563.5 Z" fill="#000"/><defs><clipPath id="c14"><path d="M915.8,890.5 L915.7,894.9 L915.2,898.3 L914.4,901.4 L913.2,904.3 L911.6,907.0 L909.6,909.5 L907.3,911.8 L904.7,914.0 L901.7,916.0 L898.4,917.8 L894.7,919.5 L890.8,920.9 L886.5,922.2 L881.9,923.3 L876.9,924.1 L871.5,924.8 L865.6,925.3 L857.9,925.6 L850.2,925.7 L844.2,925.5 L838.8,925.1 L833.8,924.5 L829.1,923.7 L824.8,922.7 L820.8,921.4 L817.0,920.0 L813.6,918.3 L810.5,916.5 L807.8,914.4 L805.4,912.2 L803.3,909.8 L801.5,907.2 L800.2,904.4 L799.2,901.3 L798.5,897.9 L798.2,893.5 L798.3,889.1 L798.8,885.7 L799.6,882.6 L800.8,879.7 L802.4,877.0 L804.4,874.5 L806.7,872.2 L809.3,870.0 L812.3,868.0 L815.6,866.2 L819.3,864.5 L823.2,863.1 L827.5,861.8 L832.1,860.7 L837.1,859.9 L842.5,859.2 L848.4,858.7 L856.1,858.4 L863.8,858.3 L869.8,858.5 L875.2,858.9 L880.2,859.5 L884.9,860.3 L889.2,861.3 L893.2,862.6 L897.0,864.0 L900.4,865.7 L903.5,867.5 L906.2,869.6 L908.6,871.8 L910.7,874.2 L912.5,876.8 L913.8,879.6 L914.8,882.7 L915.5,886.1 Z"/></clipPath><clipPath id="c15"><path d="M633.0,889.7 L632.9,894.3 L632.5,897.6 L631.6,900.6 L630.4,903.3 L628.9,905.8 L627.0,908.2 L624.7,910.3 L622.1,912.4 L619.2,914.2 L615.9,915.9 L612.3,917.4 L608.4,918.7 L604.1,919.9 L599.5,920.9 L594.5,921.7 L589.0,922.3 L582.8,922.8 L574.3,923.1 L565.9,923.2 L559.7,923.1 L554.1,922.7 L549.1,922.2 L544.4,921.5 L540.1,920.5 L536.1,919.4 L532.4,918.1 L529.1,916.6 L526.0,914.9 L523.3,913.0 L521.0,910.9 L518.9,908.7 L517.3,906.3 L515.9,903.6 L514.9,900.7 L514.3,897.4 L514.0,892.9 L514.1,888.3 L514.5,885.0 L515.4,882.0 L516.6,879.3 L518.1,876.8 L520.0,874.4 L522.3,872.3 L524.9,870.2 L527.8,868.4 L531.1,866.7 L534.7,865.2 L538.6,863.9 L542.9,862.7 L547.5,861.7 L552.5,860.9 L558.0,860.3 L564.2,859.8 L572.7,859.5 L581.1,859.4 L587.3,859.5 L592.9,859.9 L597.9,860.4 L602.6,861.1 L606.9,862.1 L610.9,863.2 L614.6,864.5 L617.9,866.0 L621.0,867.7 L623.7,869.6 L626.0,871.7 L628.1,873.9 L629.7,876.3 L631.1,879.0 L632.1,881.9 L632.7,885.2 Z"/></clipPath></defs><path d="M921.6,890.3 L921.5,895.5 L921.0,899.5 L920.1,903.2 L918.7,906.6 L917.0,909.8 L914.9,912.7 L912.3,915.5 L909.4,918.0 L906.2,920.4 L902.5,922.5 L898.5,924.5 L894.2,926.2 L889.5,927.6 L884.4,928.9 L878.9,929.9 L873.0,930.7 L866.5,931.2 L858.0,931.6 L849.6,931.7 L843.0,931.5 L837.1,931.0 L831.6,930.3 L826.5,929.3 L821.7,928.1 L817.2,926.6 L813.1,924.9 L809.4,922.9 L806.0,920.7 L803.0,918.3 L800.3,915.7 L798.0,912.9 L796.1,909.8 L794.6,906.5 L793.5,902.9 L792.8,898.9 L792.4,893.7 L792.5,888.5 L793.0,884.5 L793.9,880.8 L795.3,877.4 L797.0,874.2 L799.1,871.3 L801.7,868.5 L804.6,866.0 L807.8,863.6 L811.5,861.5 L815.5,859.5 L819.8,857.8 L824.5,856.4 L829.6,855.1 L835.1,854.1 L841.0,853.3 L847.5,852.8 L856.0,852.4 L864.4,852.3 L871.0,852.5 L876.9,853.0 L882.4,853.7 L887.5,854.7 L892.3,855.9 L896.8,857.4 L900.9,859.1 L904.6,861.1 L908.0,863.3 L911.0,865.7 L913.7,868.3 L916.0,871.1 L917.9,874.2 L919.4,877.5 L920.5,881.1 L921.2,885.1 Z" fill="#c4f048" stroke="#000" stroke-width="2"/><path d="M915.8,890.5 L915.7,894.9 L915.2,898.3 L914.4,901.4 L913.2,904.3 L911.6,907.0 L909.6,909.5 L907.3,911.8 L904.7,914.0 L901.7,916.0 L898.4,917.8 L894.7,919.5 L890.8,920.9 L886.5,922.2 L881.9,923.3 L876.9,924.1 L871.5,924.8 L865.6,925.3 L857.9,925.6 L850.2,925.7 L844.2,925.5 L838.8,925.1 L833.8,924.5 L829.1,923.7 L824.8,922.7 L820.8,921.4 L817.0,920.0 L813.6,918.3 L810.5,916.5 L807.8,914.4 L805.4,912.2 L803.3,909.8 L801.5,907.2 L800.2,904.4 L799.2,901.3 L798.5,897.9 L798.2,893.5 L798.3,889.1 L798.8,885.7 L799.6,882.6 L800.8,879.7 L802.4,877.0 L804.4,874.5 L806.7,872.2 L809.3,870.0 L812.3,868.0 L815.6,866.2 L819.3,864.5 L823.2,863.1 L827.5,861.8 L832.1,860.7 L837.1,859.9 L842.5,859.2 L848.4,858.7 L856.1,858.4 L863.8,858.3 L869.8,858.5 L875.2,858.9 L880.2,859.5 L884.9,860.3 L889.2,861.3 L893.2,862.6 L897.0,864.0 L900.4,865.7 L903.5,867.5 L906.2,869.6 L908.6,871.8 L910.7,874.2 L912.5,876.8 L913.8,879.6 L914.8,882.7 L915.5,886.1 Z" fill="#1eec8c" stroke="#000" stroke-width="2"/><path clip-path="url(#c14)" d="M821.6,850 C822,865 824.6,875 824.6,885.6 C824.6,900 823,912 823.6,935 L930,935 L930,850 Z M904.8,850 C906,865 906.9,880 906.9,890.7 C906.9,900 906,912 908,935" fill="#f6d4fa" stroke="#000" stroke-width="2"/><path clip-path="url(#c14)" d="M904.8,850 C906,865 906.9,880 906.9,890.7 C906.9,900 906,912 908,935 L935,935 L935,850 Z" fill="#1eec8c" stroke="#000" stroke-width="2"/><path d="M915.8,890.5 L915.7,894.9 L915.2,898.3 L914.4,901.4 L913.2,904.3 L911.6,907.0 L909.6,909.5 L907.3,911.8 L904.7,914.0 L901.7,916.0 L898.4,917.8 L894.7,919.5 L890.8,920.9 L886.5,922.2 L881.9,923.3 L876.9,924.1 L871.5,924.8 L865.6,925.3 L857.9,925.6 L850.2,925.7 L844.2,925.5 L838.8,925.1 L833.8,924.5 L829.1,923.7 L824.8,922.7 L820.8,921.4 L817.0,920.0 L813.6,918.3 L810.5,916.5 L807.8,914.4 L805.4,912.2 L803.3,909.8 L801.5,907.2 L800.2,904.4 L799.2,901.3 L798.5,897.9 L798.2,893.5 L798.3,889.1 L798.8,885.7 L799.6,882.6 L800.8,879.7 L802.4,877.0 L804.4,874.5 L806.7,872.2 L809.3,870.0 L812.3,868.0 L815.6,866.2 L819.3,864.5 L823.2,863.1 L827.5,861.8 L832.1,860.7 L837.1,859.9 L842.5,859.2 L848.4,858.7 L856.1,858.4 L863.8,858.3 L869.8,858.5 L875.2,858.9 L880.2,859.5 L884.9,860.3 L889.2,861.3 L893.2,862.6 L897.0,864.0 L900.4,865.7 L903.5,867.5 L906.2,869.6 L908.6,871.8 L910.7,874.2 L912.5,876.8 L913.8,879.6 L914.8,882.7 L915.5,886.1 Z" fill="none" stroke="#000" stroke-width="2"/><path d="M805.3,883.6 C806.8,880.6 810.4,879.3 812.4,880.0 C814.4,880.7 816.4,882.9 817.5,887.6 C818.6,892.3 819.3,903.6 819.0,908.0 C818.7,912.4 817.5,913.7 815.5,914.0 C813.5,914.3 809.3,912.7 807.3,910.0 C805.3,907.3 803.6,902.2 803.3,897.8 C803.0,893.4 803.8,886.6 805.3,883.6 Z" fill="#20b548" stroke="#000" stroke-width="2"/><circle cx="811.9" cy="901.4" r="3.6" fill="#000"/><circle cx="862.7" cy="893.2" r="10.2" fill="#000"/><path d="M639.0,889.6 L638.9,895.0 L638.4,899.0 L637.5,902.5 L636.2,905.8 L634.5,908.8 L632.4,911.6 L630.0,914.2 L627.1,916.6 L623.9,918.8 L620.3,920.8 L616.3,922.6 L612.0,924.2 L607.3,925.6 L602.2,926.7 L596.7,927.7 L590.6,928.4 L583.8,928.9 L574.5,929.3 L565.2,929.4 L558.3,929.2 L552.3,928.8 L546.7,928.2 L541.5,927.3 L536.8,926.1 L532.4,924.8 L528.3,923.2 L524.6,921.4 L521.3,919.4 L518.3,917.1 L515.7,914.6 L513.5,912.0 L511.6,909.0 L510.2,905.9 L509.1,902.4 L508.4,898.4 L508.0,893.0 L508.1,887.6 L508.6,883.6 L509.5,880.1 L510.8,876.8 L512.5,873.8 L514.6,871.0 L517.0,868.4 L519.9,866.0 L523.1,863.8 L526.7,861.8 L530.7,860.0 L535.0,858.4 L539.7,857.0 L544.8,855.9 L550.3,854.9 L556.4,854.2 L563.2,853.7 L572.5,853.3 L581.8,853.2 L588.7,853.4 L594.7,853.8 L600.3,854.4 L605.5,855.3 L610.2,856.5 L614.6,857.8 L618.7,859.4 L622.4,861.2 L625.7,863.2 L628.7,865.5 L631.3,868.0 L633.5,870.6 L635.4,873.6 L636.8,876.7 L637.9,880.2 L638.6,884.2 Z" fill="#c4f048" stroke="#000" stroke-width="2"/><path d="M633.0,889.7 L632.9,894.3 L632.5,897.6 L631.6,900.6 L630.4,903.3 L628.9,905.8 L627.0,908.2 L624.7,910.3 L622.1,912.4 L619.2,914.2 L615.9,915.9 L612.3,917.4 L608.4,918.7 L604.1,919.9 L599.5,920.9 L594.5,921.7 L589.0,922.3 L582.8,922.8 L574.3,923.1 L565.9,923.2 L559.7,923.1 L554.1,922.7 L549.1,922.2 L544.4,921.5 L540.1,920.5 L536.1,919.4 L532.4,918.1 L529.1,916.6 L526.0,914.9 L523.3,913.0 L521.0,910.9 L518.9,908.7 L517.3,906.3 L515.9,903.6 L514.9,900.7 L514.3,897.4 L514.0,892.9 L514.1,888.3 L514.5,885.0 L515.4,882.0 L516.6,879.3 L518.1,876.8 L520.0,874.4 L522.3,872.3 L524.9,870.2 L527.8,868.4 L531.1,866.7 L534.7,865.2 L538.6,863.9 L542.9,862.7 L547.5,861.7 L552.5,860.9 L558.0,860.3 L564.2,859.8 L572.7,859.5 L581.1,859.4 L587.3,859.5 L592.9,859.9 L597.9,860.4 L602.6,861.1 L606.9,862.1 L610.9,863.2 L614.6,864.5 L617.9,866.0 L621.0,867.7 L623.7,869.6 L626.0,871.7 L628.1,873.9 L629.7,876.3 L631.1,879.0 L632.1,881.9 L632.7,885.2 Z" fill="#1eec8c" stroke="#000" stroke-width="2"/><path clip-path="url(#c15)" d="M531.0,850.0 C531.2,852.8 532.1,862.7 532.5,866.8 C532.9,870.9 531.5,872.3 533.5,874.4 C535.5,876.5 542.0,877.3 544.7,879.5 C547.4,881.7 549.6,884.7 549.8,887.6 C550.0,890.5 548.2,894.4 545.7,896.8 C543.2,899.2 536.7,899.7 534.5,901.9 C532.3,904.1 531.8,907.3 532.5,910.0 C533.2,912.7 536.0,914.8 538.6,918.1 C541.2,921.4 546.4,928.0 548.0,930.0 L650,930 L650,850 Z" fill="#f6d4fa"/><path clip-path="url(#c15)" d="M531.0,850.0 C531.2,852.8 532.1,862.7 532.5,866.8 C532.9,870.9 531.5,872.3 533.5,874.4 C535.5,876.5 542.0,877.3 544.7,879.5 C547.4,881.7 549.6,884.7 549.8,887.6 C550.0,890.5 548.2,894.4 545.7,896.8 C543.2,899.2 536.7,899.7 534.5,901.9 C532.3,904.1 531.8,907.3 532.5,910.0 C533.2,912.7 536.0,914.8 538.6,918.1 C541.2,921.4 546.4,928.0 548.0,930.0" fill="none" stroke="#000" stroke-width="2"/><path d="M633.0,889.7 L632.9,894.3 L632.5,897.6 L631.6,900.6 L630.4,903.3 L628.9,905.8 L627.0,908.2 L624.7,910.3 L622.1,912.4 L619.2,914.2 L615.9,915.9 L612.3,917.4 L608.4,918.7 L604.1,919.9 L599.5,920.9 L594.5,921.7 L589.0,922.3 L582.8,922.8 L574.3,923.1 L565.9,923.2 L559.7,923.1 L554.1,922.7 L549.1,922.2 L544.4,921.5 L540.1,920.5 L536.1,919.4 L532.4,918.1 L529.1,916.6 L526.0,914.9 L523.3,913.0 L521.0,910.9 L518.9,908.7 L517.3,906.3 L515.9,903.6 L514.9,900.7 L514.3,897.4 L514.0,892.9 L514.1,888.3 L514.5,885.0 L515.4,882.0 L516.6,879.3 L518.1,876.8 L520.0,874.4 L522.3,872.3 L524.9,870.2 L527.8,868.4 L531.1,866.7 L534.7,865.2 L538.6,863.9 L542.9,862.7 L547.5,861.7 L552.5,860.9 L558.0,860.3 L564.2,859.8 L572.7,859.5 L581.1,859.4 L587.3,859.5 L592.9,859.9 L597.9,860.4 L602.6,861.1 L606.9,862.1 L610.9,863.2 L614.6,864.5 L617.9,866.0 L621.0,867.7 L623.7,869.6 L626.0,871.7 L628.1,873.9 L629.7,876.3 L631.1,879.0 L632.1,881.9 L632.7,885.2 Z" fill="none" stroke="#000" stroke-width="2"/><rect x="518.3" y="884.1" width="26.4" height="12.7" rx="6.3" fill="#20b548" stroke="#000" stroke-width="2"/><path d="M530.8,884.5 L530.8,896.5" stroke="#000" stroke-width="1.8"/><circle cx="525.6" cy="890.2" r="2.2" fill="#000"/><circle cx="537" cy="889.9" r="2.2" fill="#000"/><circle cx="550.8" cy="871.4" r="2.5" fill="#000"/><circle cx="566" cy="867.3" r="2.5" fill="#000"/><circle cx="575.6" cy="873.9" r="2.5" fill="#000"/><circle cx="594.9" cy="870.4" r="2.5" fill="#000"/><circle cx="610.7" cy="870.9" r="2.5" fill="#000"/><circle cx="559.9" cy="879.5" r="2.5" fill="#000"/><circle cx="567" cy="884.1" r="2.5" fill="#000"/><circle cx="578.2" cy="889.7" r="2.5" fill="#000"/><circle cx="587.8" cy="883.6" r="2.5" fill="#000"/><circle cx="600" cy="882.1" r="2.5" fill="#000"/><circle cx="616.8" cy="879.5" r="2.5" fill="#000"/><circle cx="615.3" cy="891.2" r="2.5" fill="#000"/><circle cx="626.4" cy="894.2" r="2.5" fill="#000"/><circle cx="557.9" cy="899.8" r="2.5" fill="#000"/><circle cx="590.9" cy="899.3" r="2.5" fill="#000"/><circle cx="603.1" cy="897.3" r="2.5" fill="#000"/><circle cx="548.7" cy="908" r="2.5" fill="#000"/><circle cx="558.4" cy="910.5" r="2.5" fill="#000"/><circle cx="571.1" cy="906.4" r="2.5" fill="#000"/><circle cx="581.2" cy="912.5" r="2.5" fill="#000"/><circle cx="599" cy="908.5" r="2.5" fill="#000"/><circle cx="613.2" cy="907" r="2.5" fill="#000"/><path d="M357.0,892.3 L356.6,897.2 L355.8,901.2 L354.6,904.9 L353.0,908.3 L351.0,911.5 L348.5,914.4 L345.7,917.2 L342.5,919.7 L339.0,922.0 L335.1,924.0 L330.9,925.8 L326.3,927.4 L321.4,928.7 L316.2,929.7 L310.7,930.5 L304.8,930.9 L298.4,931.1 L290.6,931.0 L282.8,930.6 L276.4,929.9 L270.6,929.1 L265.1,927.9 L260.0,926.5 L255.2,924.9 L250.7,923.1 L246.6,921.0 L242.9,918.6 L239.5,916.1 L236.5,913.4 L233.9,910.4 L231.7,907.3 L229.9,904.0 L228.5,900.4 L227.6,896.7 L227.1,892.6 L227.0,887.7 L227.4,882.8 L228.2,878.8 L229.4,875.1 L231.0,871.7 L233.0,868.5 L235.5,865.6 L238.3,862.8 L241.5,860.3 L245.0,858.0 L248.9,856.0 L253.1,854.2 L257.7,852.6 L262.6,851.3 L267.8,850.3 L273.3,849.5 L279.2,849.1 L285.6,848.9 L293.4,849.0 L301.2,849.4 L307.6,850.1 L313.4,850.9 L318.9,852.1 L324.0,853.5 L328.8,855.1 L333.3,856.9 L337.4,859.0 L341.1,861.4 L344.5,863.9 L347.5,866.6 L350.1,869.6 L352.3,872.7 L354.1,876.0 L355.5,879.6 L356.4,883.3 L356.9,887.4 Z" fill="#c4f048" stroke="#000" stroke-width="2"/><path d="M352.0,892.0 L351.6,896.1 L350.9,899.5 L349.9,902.6 L348.5,905.5 L346.7,908.1 L344.5,910.6 L342.1,913.0 L339.3,915.1 L336.1,917.0 L332.7,918.7 L328.9,920.2 L324.9,921.5 L320.6,922.6 L316.0,923.5 L311.1,924.1 L305.9,924.5 L300.2,924.6 L293.3,924.5 L286.4,924.1 L280.8,923.6 L275.6,922.8 L270.8,921.9 L266.2,920.7 L262.0,919.3 L258.0,917.8 L254.4,916.0 L251.1,914.0 L248.1,911.9 L245.4,909.6 L243.1,907.1 L241.2,904.5 L239.6,901.7 L238.4,898.7 L237.5,895.5 L237.1,892.1 L237.0,888.0 L237.4,883.9 L238.1,880.5 L239.1,877.4 L240.5,874.5 L242.3,871.9 L244.5,869.4 L246.9,867.0 L249.7,864.9 L252.9,863.0 L256.3,861.3 L260.1,859.8 L264.1,858.5 L268.4,857.4 L273.0,856.5 L277.9,855.9 L283.1,855.5 L288.8,855.4 L295.7,855.5 L302.6,855.9 L308.2,856.4 L313.4,857.2 L318.2,858.1 L322.8,859.3 L327.0,860.7 L331.0,862.2 L334.6,864.0 L337.9,866.0 L340.9,868.1 L343.6,870.4 L345.9,872.9 L347.8,875.5 L349.4,878.3 L350.6,881.3 L351.5,884.5 L351.9,887.9 Z" fill="#2ee88f" stroke="#000" stroke-width="2"/><path d="M249.4,872.0 C250.2,870.7 253.0,864.6 256.0,863.0 C259.0,861.4 269.3,859.1 275.0,858.5 C280.7,857.9 298.6,857.6 305.0,858.0 C311.4,858.4 325.3,860.4 330.0,862.0 C334.7,863.6 342.9,868.7 345.0,872.0 C347.1,875.3 348.2,885.8 348.0,890.0 C347.8,894.2 345.7,904.7 343.0,908.0 C340.3,911.3 331.1,916.7 325.0,918.0 C318.9,919.3 297.4,920.0 291.1,919.5 C284.8,919.0 274.4,915.4 270.8,914.1 C267.2,912.8 263.1,909.1 260.6,908.0 C258.1,906.9 250.6,905.8 249.4,905.0 C248.2,904.2 248.0,901.5 250.5,901.0 C253.0,900.5 267.7,900.8 270.8,900.4 C273.9,900.0 273.4,898.1 276.9,897.9 C280.4,897.7 296.5,899.0 301.2,898.9 C305.9,898.8 315.1,898.1 317.5,896.9 C319.9,895.7 321.6,889.3 321.5,888.7 C321.4,888.1 318.9,891.2 316.5,891.8 C314.1,892.4 308.9,893.8 301.2,893.8 C293.5,893.8 257.0,892.7 250.5,891.8 C244.0,890.9 245.4,886.9 245.4,885.7 C245.4,884.5 245.2,882.2 250.5,881.6 C255.8,881.0 282.0,880.5 291.1,880.6 C300.2,880.7 324.2,881.5 328.7,882.6 C333.2,883.7 328.9,889.1 329.7,889.8 C330.5,890.5 335.2,889.8 335.8,888.7 C336.4,887.6 336.4,882.0 334.7,880.6 C333.0,879.2 329.0,877.4 321.5,877.0 C314.0,876.6 279.2,877.9 270.8,877.6 C262.4,877.3 251.9,875.2 249.4,874.5 C246.9,873.8 248.6,873.3 249.4,872.0 Z" fill="#0cc24e" stroke="#000" stroke-width="1.9" stroke-linejoin="round"/><circle cx="861.2" cy="965.3" r="24.3" fill="none" stroke="#000" stroke-width="2.3"/><text x="0" y="0" transform="translate(861.2,979.0999999999999) scale(0.92,1)" text-anchor="middle" font-size="44">14</text><circle cx="576.8" cy="967.4" r="24.3" fill="none" stroke="#000" stroke-width="2.3"/><text x="0" y="0" transform="translate(576.8,981.1999999999999) scale(0.92,1)" text-anchor="middle" font-size="44">15</text><circle cx="289.1" cy="966.9" r="24.3" fill="none" stroke="#000" stroke-width="2.3"/><text x="0" y="0" transform="translate(289.1,980.6999999999999) scale(0.92,1)" text-anchor="middle" font-size="44">16</text><circle cx="69.6" cy="735.2" r="25" fill="none" stroke="#000" stroke-width="2.3"/><text x="0" y="0" transform="translate(69.6,749.0) scale(0.92,1)" text-anchor="middle" font-size="44">17</text><circle cx="794.9" cy="804.8" r="38" fill="none" stroke="#000" stroke-width="2.3"/><text x="0" y="0" transform="translate(794.9,818.5999999999999) scale(0.96,1)" text-anchor="middle" font-size="44">14б</text><circle cx="897.4" cy="807.3" r="38" fill="none" stroke="#000" stroke-width="2.3"/><text x="0" y="0" transform="translate(897.4,821.0999999999999) scale(0.96,1)" text-anchor="middle" font-size="44">14а</text><circle cx="512.2" cy="801.3" r="38" fill="none" stroke="#000" stroke-width="2.3"/><text x="0" y="0" transform="translate(512.2,815.0999999999999) scale(0.96,1)" text-anchor="middle" font-size="44">15б</text><circle cx="605" cy="801.3" r="38" fill="none" stroke="#000" stroke-width="2.3"/><text x="0" y="0" transform="translate(605,815.0999999999999) scale(0.96,1)" text-anchor="middle" font-size="44">15а</text><line x1="800.7" y1="842.6" x2="808.9" y2="867.1" stroke="#000" stroke-width="2.2"/><path d="M812.8,879 L804.1,868.7 L813.6,865.6 Z" fill="#000"/><line x1="887.6" y1="845.9" x2="878.4" y2="866.4" stroke="#000" stroke-width="2.2"/><path d="M873.3,877.8 L873.9,864.3 L883.0,868.4 Z" fill="#000"/><line x1="520.7" y1="842.6" x2="526.6" y2="867.8" stroke="#000" stroke-width="2.2"/><path d="M529.5,880 L521.8,869.0 L531.5,866.7 Z" fill="#000"/><line x1="599.9" y1="842.6" x2="592.2" y2="871.2" stroke="#000" stroke-width="2.2"/><path d="M588.9,883.3 L587.3,869.9 L597.0,872.5 Z" fill="#000"/><path d="M39.6,385.0 C42.2,387.5 50.3,394.2 55.0,400.0 C59.7,405.8 63.8,414.7 68.0,420.0 C72.2,425.3 75.3,428.0 80.0,432.0 C84.7,436.0 91.3,440.2 96.0,444.0 C100.7,447.8 106.0,453.2 108.0,455.0" fill="none" stroke="#000" stroke-width="2"/><path d="M50.3,310.0 C51.1,313.3 52.7,324.0 55.0,330.0 C57.3,336.0 60.5,341.7 64.0,346.0 C67.5,350.3 72.2,353.0 76.0,356.0 C79.8,359.0 85.2,362.7 87.0,364.0" fill="none" stroke="#000" stroke-width="2"/><path d="M96.0,262.0 C96.4,265.8 98.3,277.0 98.5,285.0 C98.7,293.0 98.1,301.7 97.0,310.0 C95.9,318.3 93.5,326.7 92.0,335.0 C90.5,343.3 88.7,355.8 88.0,360.0" fill="none" stroke="#000" stroke-width="2"/><g transform="translate(96,266) rotate(170.2)"><path d="M0,0 C1.3,-13.5 14.5,-11.7 26.4,0 C14.5,11.7 1.3,13.5 0,0 Z" fill="#2f9e2b" stroke="#000" stroke-width="1.8" stroke-linejoin="round"/><path d="M0,0 C1.3,-13.5 14.5,-11.7 26.4,0 C15.8,-2.2 7.9,-2.2 0,0 Z" fill="#23861f"/><path d="M2.1,0 C9.2,-2.7 17.2,-2.7 25.1,0" fill="none" stroke="#000" stroke-width="1.6"/></g><g transform="translate(49,309) rotate(-61.5)"><path d="M0,0 C1.7,-15.0 18.5,-13.0 33.6,0 C18.5,13.0 1.7,15.0 0,0 Z" fill="#2f9e2b" stroke="#000" stroke-width="1.8" stroke-linejoin="round"/><path d="M0,0 C1.7,15.0 18.5,13.0 33.6,0 C20.1,2.5 10.1,2.5 0,0 Z" fill="#23861f"/><path d="M2.7,0 C11.7,3.0 21.8,3.0 31.9,0" fill="none" stroke="#000" stroke-width="1.6"/></g><g transform="translate(98,301) rotate(146.1)"><path d="M0,0 C1.8,-15.0 20.2,-13.0 36.7,0 C20.2,13.0 1.8,15.0 0,0 Z" fill="#2f9e2b" stroke="#000" stroke-width="1.8" stroke-linejoin="round"/><path d="M0,0 C1.8,15.0 20.2,13.0 36.7,0 C22.0,2.5 11.0,2.5 0,0 Z" fill="#23861f"/><path d="M2.9,0 C12.9,3.0 23.9,3.0 34.9,0" fill="none" stroke="#000" stroke-width="1.6"/></g><g transform="translate(102,296) rotate(70.6)"><path d="M0,0 C1.8,-16.5 19.8,-14.3 36.1,0 C19.8,14.3 1.8,16.5 0,0 Z" fill="#2f9e2b" stroke="#000" stroke-width="1.8" stroke-linejoin="round"/><path d="M0,0 C1.8,-16.5 19.8,-14.3 36.1,0 C21.6,-2.8 10.8,-2.8 0,0 Z" fill="#23861f"/><path d="M2.9,0 C12.6,-3.3 23.4,-3.3 34.3,0" fill="none" stroke="#000" stroke-width="1.6"/></g><g transform="translate(118,297) rotate(93.5)"><path d="M0,0 C1.7,-13.5 18.2,-11.7 33.1,0 C18.2,11.7 1.7,13.5 0,0 Z" fill="#2f9e2b" stroke="#000" stroke-width="1.8" stroke-linejoin="round"/><path d="M0,0 C1.7,13.5 18.2,11.7 33.1,0 C19.8,2.2 9.9,2.2 0,0 Z" fill="#23861f"/><path d="M2.6,0 C11.6,2.7 21.5,2.7 31.4,0" fill="none" stroke="#000" stroke-width="1.6"/></g><g transform="translate(64.5,340) rotate(1.5)"><path d="M0,0 C1.9,-13.5 20.4,-11.7 37.0,0 C20.4,11.7 1.9,13.5 0,0 Z" fill="#2f9e2b" stroke="#000" stroke-width="1.8" stroke-linejoin="round"/><path d="M0,0 C1.9,-13.5 20.4,-11.7 37.0,0 C22.2,-2.2 11.1,-2.2 0,0 Z" fill="#23861f"/><path d="M3.0,0 C13.0,-2.7 24.1,-2.7 35.2,0" fill="none" stroke="#000" stroke-width="1.6"/></g><g transform="translate(62,346) rotate(99.1)"><path d="M0,0 C2.1,-16.5 22.6,-14.3 41.0,0 C22.6,14.3 2.1,16.5 0,0 Z" fill="#2f9e2b" stroke="#000" stroke-width="1.8" stroke-linejoin="round"/><path d="M0,0 C2.1,16.5 22.6,14.3 41.0,0 C24.6,2.8 12.3,2.8 0,0 Z" fill="#23861f"/><path d="M3.3,0 C14.4,3.3 26.7,3.3 39.0,0" fill="none" stroke="#000" stroke-width="1.6"/></g><g transform="translate(130,412) rotate(-109.8)"><path d="M0,0 C2.3,-16.5 25.1,-14.3 45.7,0 C25.1,14.3 2.3,16.5 0,0 Z" fill="#2f9e2b" stroke="#000" stroke-width="1.8" stroke-linejoin="round"/><path d="M0,0 C2.3,-16.5 25.1,-14.3 45.7,0 C27.4,-2.8 13.7,-2.8 0,0 Z" fill="#23861f"/><path d="M3.7,0 C16.0,-3.3 29.7,-3.3 43.4,0" fill="none" stroke="#000" stroke-width="1.6"/></g><g transform="translate(149,372) rotate(-161.1)"><path d="M0,0 C1.1,-9.0 11.9,-7.8 21.7,0 C11.9,7.8 1.1,9.0 0,0 Z" fill="#2f9e2b" stroke="#000" stroke-width="1.8" stroke-linejoin="round"/><path d="M0,0 C1.1,9.0 11.9,7.8 21.7,0 C13.0,1.5 6.5,1.5 0,0 Z" fill="#23861f"/><path d="M1.7,0 C7.6,1.8 14.1,1.8 20.6,0" fill="none" stroke="#000" stroke-width="1.6"/></g><g transform="translate(174,384) rotate(65.8)"><path d="M0,0 C1.1,-9.0 12.1,-7.8 21.9,0 C12.1,7.8 1.1,9.0 0,0 Z" fill="#2f9e2b" stroke="#000" stroke-width="1.8" stroke-linejoin="round"/><path d="M0,0 C1.1,-9.0 12.1,-7.8 21.9,0 C13.2,-1.5 6.6,-1.5 0,0 Z" fill="#23861f"/><path d="M1.8,0 C7.7,-1.8 14.3,-1.8 20.8,0" fill="none" stroke="#000" stroke-width="1.6"/></g><g transform="translate(170,384) rotate(112.6)"><path d="M0,0 C0.7,-6.0 7.2,-5.2 13.0,0 C7.2,5.2 0.7,6.0 0,0 Z" fill="#2f9e2b" stroke="#000" stroke-width="1.8" stroke-linejoin="round"/><path d="M0,0 C0.7,6.0 7.2,5.2 13.0,0 C7.8,1.0 3.9,1.0 0,0 Z" fill="#23861f"/><path d="M1.0,0 C4.5,1.2 8.5,1.2 12.3,0" fill="none" stroke="#000" stroke-width="1.6"/></g><path d="M112.8,546.0 C112.8,538.3 112.8,514.3 112.5,500.0 C112.2,485.7 112.1,471.7 111.0,460.0 C109.9,448.3 108.5,440.0 106.0,430.0 C103.5,420.0 98.8,409.2 96.0,400.0 C93.2,390.8 90.0,384.2 89.0,375.0 C88.0,365.8 89.8,350.0 90.0,345.0" fill="none" stroke="#000" stroke-width="7.4" stroke-linecap="round"/><path d="M112.8,546.0 C112.8,538.3 112.8,514.3 112.5,500.0 C112.2,485.7 112.1,471.7 111.0,460.0 C109.9,448.3 108.5,440.0 106.0,430.0 C103.5,420.0 98.8,409.2 96.0,400.0 C93.2,390.8 90.0,384.2 89.0,375.0 C88.0,365.8 89.8,350.0 90.0,345.0" fill="none" stroke="#2dba62" stroke-width="4.2" stroke-linecap="round"/><path d="M111.0,458.0 C112.2,455.0 114.8,446.3 118.0,440.0 C121.2,433.7 125.8,426.7 130.0,420.0 C134.2,413.3 139.3,405.7 143.0,400.0 C146.7,394.3 150.5,388.3 152.0,386.0" fill="none" stroke="#000" stroke-width="7.7" stroke-linecap="round"/><path d="M111.0,458.0 C112.2,455.0 114.8,446.3 118.0,440.0 C121.2,433.7 125.8,426.7 130.0,420.0 C134.2,413.3 139.3,405.7 143.0,400.0 C146.7,394.3 150.5,388.3 152.0,386.0" fill="none" stroke="#2dba62" stroke-width="4.5" stroke-linecap="round"/><g transform="translate(78,436) rotate(124.9)"><path d="M0,0 C2.5,-16.5 27.8,-14.3 50.6,0 C27.8,14.3 2.5,16.5 0,0 Z" fill="#2f9e2b" stroke="#000" stroke-width="1.8" stroke-linejoin="round"/><path d="M0,0 C2.5,16.5 27.8,14.3 50.6,0 C30.4,2.8 15.2,2.8 0,0 Z" fill="#23861f"/><path d="M4.1,0 C17.7,3.3 32.9,3.3 48.1,0" fill="none" stroke="#000" stroke-width="1.6"/></g><g transform="translate(80,426) rotate(-45.0)"><path d="M0,0 C1.8,-13.5 20.2,-11.7 36.8,0 C20.2,11.7 1.8,13.5 0,0 Z" fill="#2f9e2b" stroke="#000" stroke-width="1.8" stroke-linejoin="round"/><path d="M0,0 C1.8,-13.5 20.2,-11.7 36.8,0 C22.1,-2.2 11.0,-2.2 0,0 Z" fill="#23861f"/><path d="M2.9,0 C12.9,-2.7 23.9,-2.7 34.9,0" fill="none" stroke="#000" stroke-width="1.6"/></g><g transform="translate(140,416) rotate(85.4)"><path d="M0,0 C2.5,-16.5 27.6,-14.3 50.2,0 C27.6,14.3 2.5,16.5 0,0 Z" fill="#2f9e2b" stroke="#000" stroke-width="1.8" stroke-linejoin="round"/><path d="M0,0 C2.5,-16.5 27.6,-14.3 50.2,0 C30.1,-2.8 15.0,-2.8 0,0 Z" fill="#23861f"/><path d="M4.0,0 C17.6,-3.3 32.6,-3.3 47.7,0" fill="none" stroke="#000" stroke-width="1.6"/></g><g transform="translate(106,496) rotate(140.1)"><path d="M0,0 C2.2,-13.5 24.0,-11.7 43.7,0 C24.0,11.7 2.2,13.5 0,0 Z" fill="#2f9e2b" stroke="#000" stroke-width="1.8" stroke-linejoin="round"/><path d="M0,0 C2.2,13.5 24.0,11.7 43.7,0 C26.2,2.2 13.1,2.2 0,0 Z" fill="#23861f"/><path d="M3.5,0 C15.3,2.7 28.4,2.7 41.5,0" fill="none" stroke="#000" stroke-width="1.6"/></g><g transform="translate(105,494) rotate(-154.7)"><path d="M0,0 C1.1,-9.0 11.6,-7.8 21.0,0 C11.6,7.8 1.1,9.0 0,0 Z" fill="#2f9e2b" stroke="#000" stroke-width="1.8" stroke-linejoin="round"/><path d="M0,0 C1.1,-9.0 11.6,-7.8 21.0,0 C12.6,-1.5 6.3,-1.5 0,0 Z" fill="#23861f"/><path d="M1.7,0 C7.4,-1.8 13.7,-1.8 20.0,0" fill="none" stroke="#000" stroke-width="1.6"/></g><g transform="translate(117,496) rotate(29.1)"><path d="M0,0 C2.5,-19.5 27.7,-16.9 50.4,0 C27.7,16.9 2.5,19.5 0,0 Z" fill="#2f9e2b" stroke="#000" stroke-width="1.8" stroke-linejoin="round"/><path d="M0,0 C2.5,19.5 27.7,16.9 50.4,0 C30.2,3.2 15.1,3.2 0,0 Z" fill="#23861f"/><path d="M4.0,0 C17.6,3.9 32.7,3.9 47.8,0" fill="none" stroke="#000" stroke-width="1.6"/></g><path d="M147,358 C140,360 133,361 129.5,360 C134,356 141,356 147.9,357.5 Z M146,366 C141,367 137,369 135,368 C139,365 143,364 147,364 Z" fill="#2f9e2b" stroke="#000" stroke-width="1.6"/><path d="M172,382 C176,386 181,395 183.5,404.8 C178,400 173,392 172,382 Z M165,386 C167,390 168,394 168,397 C165,395 163,390 165,386 Z" fill="#2f9e2b" stroke="#000" stroke-width="1.6"/><path d="M146.7,385.3 C145.6,379.9 143.5,365.8 144.5,358.9 C145.5,352.0 151.9,348.6 152.5,344.0 C153.1,339.4 150.4,335.9 147.9,331.3 C145.4,326.7 137.6,319.3 137.6,316.4 C137.6,313.5 144.1,313.3 147.9,314.1 C151.7,314.9 156.5,318.5 160.5,321.0 C164.5,323.5 168.2,326.5 172.0,329.0 C175.8,331.5 178.9,332.7 183.5,336.0 C188.1,339.3 195.0,344.4 199.6,348.6 C204.2,352.8 208.7,357.9 211.0,361.2 C213.3,364.4 211.9,366.2 213.4,368.1 C214.9,370.0 218.3,370.4 220.2,372.7 C222.1,375.0 224.6,379.7 224.8,381.9 C225.0,384.1 223.7,386.1 221.4,385.9 C219.1,385.7 215.0,382.9 211.0,380.7 C207.0,378.5 201.9,374.0 197.3,372.7 C192.7,371.4 187.3,371.4 183.5,372.7 C179.7,374.0 177.8,377.8 174.3,380.7 C170.9,383.6 166.6,388.2 162.8,389.9 C159.0,391.6 154.0,391.9 151.3,391.1 C148.6,390.3 147.8,390.7 146.7,385.3 Z" fill="#8c20c0" stroke="#000" stroke-width="1.8"/><path d="M139,317 C146,315 156,318 164,326 C168,331 166,336 160,334 C154,328 146,322 139,317 Z M200,372 C210,374 220,378 223,383 C218,384 208,380 200,372 Z M165,340 C172,346 176,352 178,356 C172,354 168,348 165,340 Z" fill="#d98af2"/><path d="M156,356 C162,345 168,338 174,332 M160,362 C168,350 176,342 182,337 M178,370 C186,362 194,354 202,350 M182,376 C192,370 200,366 210,364 M150,348 C154,340 158,334 162,330" fill="none" stroke="#3a0a55" stroke-width="2"/><path d="M165,350 L172,323 M168,352 L177.8,322 M172,352 L184.6,327.7 M178,354 L189.2,331.2 M184,356 L197.3,337 M190,358 L203,344 M194,362 L207.6,353" fill="none" stroke="#2a0a3a" stroke-width="1.2"/><circle cx="172" cy="322.2" r="1.9" fill="#e6c070" stroke="#000" stroke-width="0.9"/><circle cx="177.8" cy="321" r="1.9" fill="#e6c070" stroke="#000" stroke-width="0.9"/><circle cx="184.6" cy="326.7" r="1.9" fill="#e6c070" stroke="#000" stroke-width="0.9"/><circle cx="189.2" cy="330.2" r="1.9" fill="#e6c070" stroke="#000" stroke-width="0.9"/><circle cx="197.3" cy="335.9" r="1.9" fill="#e6c070" stroke="#000" stroke-width="0.9"/><circle cx="203" cy="342.8" r="1.9" fill="#e6c070" stroke="#000" stroke-width="0.9"/><circle cx="207.6" cy="352" r="1.9" fill="#e6c070" stroke="#000" stroke-width="0.9"/><path d="M147.9,391.1 C147.0,388.0 149.6,375.8 152.5,370.4 C155.4,365.0 160.3,363.1 165.1,358.9 C169.9,354.7 177.2,348.7 181.2,345.1 C185.2,341.5 187.7,337.7 189.2,337.1 C190.7,336.5 192.9,337.3 190.4,341.7 C187.9,346.1 178.1,357.6 174.3,363.5 C170.5,369.4 170.1,373.1 167.4,377.3 C164.7,381.5 161.4,386.5 158.2,388.8 C154.9,391.1 148.8,394.2 147.9,391.1 Z" fill="#2ccf74" stroke="#000" stroke-width="1.7"/><path d="M261.0,457.7 C260.3,459.4 258.0,462.6 257.0,468.0 C256.0,473.4 255.4,481.3 255.2,490.0 C254.9,498.7 255.3,510.8 255.5,520.0 C255.7,529.2 256.2,540.8 256.3,545.0" fill="none" stroke="#000" stroke-width="6.5"/><path d="M261.0,457.7 C260.3,459.4 258.0,462.6 257.0,468.0 C256.0,473.4 255.4,481.3 255.2,490.0 C254.9,498.7 255.3,510.8 255.5,520.0 C255.7,529.2 256.2,540.8 256.3,545.0" fill="none" stroke="#f8f0a0" stroke-width="3.3"/><path d="M252,428 C248,418 248,404 252,398 C255,394 260,392 264,394 C267,390 274,390 278,394 C284,399 289,407 288,415 C287,421 283,426 278,428 C272,432 264,434 257,433 C254,432 253,430 252,428 Z" fill="#fbb612" stroke="#000" stroke-width="1.8" stroke-linejoin="round"/><path d="M256.5,397 C255,408 255.5,420 258.5,432 M264,394.5 C265,408 267,420 271.5,431.5 M278,394.5 C279,406 279,418 278.5,428" fill="none" stroke="#000" stroke-width="1.6"/><path d="M256.9,453.5 C257.4,451.2 258.6,446.6 261.0,444.0 C263.4,441.4 267.7,439.3 271.6,437.7 C275.5,436.1 280.7,435.9 284.2,434.5 C287.7,433.1 290.2,429.7 292.7,429.2 C295.2,428.7 297.4,429.5 299.0,431.4 C300.6,433.3 301.5,436.2 302.2,440.8 C302.9,445.4 303.0,452.6 303.2,458.7 C303.4,464.8 303.9,473.8 303.2,477.7 C302.5,481.6 300.8,480.5 299.0,481.9 C297.2,483.3 294.6,485.1 292.7,486.1 C290.8,487.1 289.2,487.7 287.4,487.7 C285.6,487.7 285.4,489.2 282.1,486.1 C278.8,483.0 271.4,474.0 267.4,469.3 C263.4,464.6 259.6,460.3 257.9,457.7 C256.1,455.1 256.4,455.8 256.9,453.5 Z" fill="#f7ab14" stroke="#000" stroke-width="1.8"/><path d="M258,452 C256,446 259,441 265,440 C270,438 275,436 280,436 C284,432 290,429 296,430 C301,431 303,436 301,442 C298,446 296,448 298,452 C297,457 292,458 289,455 C287,452 285,449 283,452 C283,458 281,462 276,461 C272,460 270,456 266,457 C262,458 259,456 258,452 Z" fill="#fcbc22" stroke="#000" stroke-width="1.7"/><path d="M265,457 C272,466 279,476 287,487 M276,461 C280,470 285,479 290,486.5 M289,455 C292,465 296,474 299,482 M298,452 C300,460 302,468 303,476" fill="none" stroke="#000" stroke-width="1.5"/><path d="M283,452 C283,446 286,444 288,447 C289,449 289,452 289,455" fill="none" stroke="#000" stroke-width="1.4"/><circle cx="265.3" cy="449.3" r="2.3" fill="#000"/><circle cx="291.6" cy="434.5" r="2.3" fill="#000"/><circle cx="276.3" cy="438.7" r="1.1" fill="#000"/><circle cx="277.4" cy="455" r="2.3" fill="#000"/><circle cx="292" cy="448" r="2.3" fill="#000"/><path d="M369.7,461.3 C370.1,458.1 370.9,453.4 372.5,451.0 C374.1,448.6 376.4,448.1 379.6,446.8 C382.9,445.6 387.9,443.9 392.0,443.5 C396.1,443.1 400.2,445.1 404.0,444.5 C407.8,443.9 411.2,441.1 415.0,440.0 C418.8,438.9 422.8,437.9 427.0,437.6 C431.2,437.4 435.7,437.9 440.0,438.5 C444.3,439.1 449.2,440.8 453.0,441.4 C456.8,442.0 459.9,441.5 463.0,442.0 C466.1,442.5 469.0,443.2 471.5,444.5 C474.0,445.8 476.5,447.4 478.0,450.0 C479.5,452.6 480.7,456.8 480.7,459.8 C480.7,462.8 479.5,465.7 478.0,468.0 C476.5,470.3 474.6,471.9 471.5,473.6 C468.4,475.3 461.1,475.8 459.3,478.2 C457.6,480.6 461.0,484.9 461.0,488.0 C461.0,491.1 460.8,493.9 459.3,496.6 C457.8,499.3 455.1,502.2 452.0,504.0 C448.9,505.8 444.2,507.1 440.9,507.3 C437.6,507.5 434.4,506.3 432.0,505.0 C429.6,503.7 428.3,499.6 426.3,499.6 C424.3,499.6 423.2,503.6 420.0,505.0 C416.8,506.4 411.2,508.0 407.2,508.0 C403.2,508.0 398.8,506.4 396.0,505.0 C393.2,503.6 391.8,502.1 390.4,499.6 C389.0,497.1 387.9,493.1 387.5,490.0 C387.1,486.9 389.2,483.1 388.0,481.3 C386.8,479.5 382.4,479.8 380.0,479.0 C377.6,478.2 375.2,478.2 373.5,476.7 C371.8,475.2 370.6,472.6 370.0,470.0 C369.4,467.4 369.3,464.5 369.7,461.3 Z" fill="#fdbf00" stroke="#000" stroke-width="2"/><path d="M426.3,499.6 C423,490 421,480 423,474 C424,470 428,470 429,474 C430,482 428,492 426.3,499.6 Z" fill="#fdbf00" stroke="#000" stroke-width="1.8"/><circle cx="424" cy="452.9" r="5.2" fill="#fdbf00" stroke="#000" stroke-width="1.8"/><circle cx="391.1" cy="462.1" r="10" fill="#f0921c" stroke="#000" stroke-width="2"/><circle cx="391.5" cy="467.2" r="0.8" fill="#5a2a00"/><circle cx="387.4" cy="466.1" r="0.8" fill="#5a2a00"/><circle cx="389.8" cy="460.8" r="0.8" fill="#5a2a00"/><circle cx="397.5" cy="462.6" r="0.8" fill="#5a2a00"/><circle cx="390.9" cy="465.5" r="0.8" fill="#5a2a00"/><circle cx="395.9" cy="462.0" r="0.8" fill="#5a2a00"/><circle cx="393.6" cy="458.0" r="0.8" fill="#5a2a00"/><circle cx="389.4" cy="460.0" r="0.8" fill="#5a2a00"/><circle cx="386.8" cy="457.2" r="0.8" fill="#5a2a00"/><circle cx="385.1" cy="461.2" r="0.8" fill="#5a2a00"/><circle cx="390.3" cy="460.5" r="0.8" fill="#5a2a00"/><circle cx="391.4" cy="456.7" r="0.8" fill="#5a2a00"/><circle cx="390.7" cy="463.3" r="0.8" fill="#5a2a00"/><circle cx="394.3" cy="458.5" r="0.8" fill="#5a2a00"/><circle cx="461.6" cy="457.5" r="9.3" fill="#f0921c" stroke="#000" stroke-width="2"/><circle cx="460.4" cy="451.7" r="0.8" fill="#5a2a00"/><circle cx="460.2" cy="451.6" r="0.8" fill="#5a2a00"/><circle cx="457.1" cy="461.0" r="0.8" fill="#5a2a00"/><circle cx="455.9" cy="459.6" r="0.8" fill="#5a2a00"/><circle cx="463.0" cy="456.1" r="0.8" fill="#5a2a00"/><circle cx="463.5" cy="459.7" r="0.8" fill="#5a2a00"/><circle cx="465.7" cy="456.6" r="0.8" fill="#5a2a00"/><circle cx="459.2" cy="455.0" r="0.8" fill="#5a2a00"/><circle cx="457.7" cy="457.3" r="0.8" fill="#5a2a00"/><circle cx="458.7" cy="461.4" r="0.8" fill="#5a2a00"/><circle cx="456.4" cy="454.5" r="0.8" fill="#5a2a00"/><circle cx="459.1" cy="452.0" r="0.8" fill="#5a2a00"/><circle cx="465.5" cy="452.6" r="0.8" fill="#5a2a00"/><circle cx="460.4" cy="455.3" r="0.8" fill="#5a2a00"/><circle cx="405.7" cy="489.7" r="9.3" fill="#f0921c" stroke="#000" stroke-width="2"/><circle cx="409.7" cy="484.9" r="0.8" fill="#5a2a00"/><circle cx="409.6" cy="487.0" r="0.8" fill="#5a2a00"/><circle cx="405.0" cy="486.9" r="0.8" fill="#5a2a00"/><circle cx="408.0" cy="485.5" r="0.8" fill="#5a2a00"/><circle cx="405.4" cy="491.2" r="0.8" fill="#5a2a00"/><circle cx="409.5" cy="484.7" r="0.8" fill="#5a2a00"/><circle cx="410.5" cy="492.7" r="0.8" fill="#5a2a00"/><circle cx="403.6" cy="491.0" r="0.8" fill="#5a2a00"/><circle cx="404.2" cy="495.0" r="0.8" fill="#5a2a00"/><circle cx="406.6" cy="488.8" r="0.8" fill="#5a2a00"/><circle cx="404.7" cy="488.8" r="0.8" fill="#5a2a00"/><circle cx="405.0" cy="486.1" r="0.8" fill="#5a2a00"/><circle cx="410.3" cy="485.5" r="0.8" fill="#5a2a00"/><circle cx="399.4" cy="489.5" r="0.8" fill="#5a2a00"/><circle cx="440.1" cy="486.6" r="9.3" fill="#f0921c" stroke="#000" stroke-width="2"/><circle cx="439.5" cy="488.2" r="0.8" fill="#5a2a00"/><circle cx="439.2" cy="485.9" r="0.8" fill="#5a2a00"/><circle cx="441.4" cy="490.4" r="0.8" fill="#5a2a00"/><circle cx="438.2" cy="485.0" r="0.8" fill="#5a2a00"/><circle cx="445.8" cy="488.1" r="0.8" fill="#5a2a00"/><circle cx="437.7" cy="492.3" r="0.8" fill="#5a2a00"/><circle cx="443.2" cy="484.3" r="0.8" fill="#5a2a00"/><circle cx="435.7" cy="487.7" r="0.8" fill="#5a2a00"/><circle cx="437.1" cy="482.8" r="0.8" fill="#5a2a00"/><circle cx="435.5" cy="484.8" r="0.8" fill="#5a2a00"/><circle cx="444.3" cy="485.0" r="0.8" fill="#5a2a00"/><circle cx="435.2" cy="488.8" r="0.8" fill="#5a2a00"/><circle cx="440.4" cy="490.0" r="0.8" fill="#5a2a00"/><circle cx="444.6" cy="486.0" r="0.8" fill="#5a2a00"/><path d="M112.2,662.0 C112.5,666.7 113.5,681.2 114.0,690.0 C114.5,698.8 115.3,706.7 115.5,715.0 C115.7,723.3 115.2,735.8 115.1,740.0" fill="none" stroke="#000" stroke-width="7.5"/><path d="M112.2,662.0 C112.5,666.7 113.5,681.2 114.0,690.0 C114.5,698.8 115.3,706.7 115.5,715.0 C115.7,723.3 115.2,735.8 115.1,740.0" fill="none" stroke="#2dbf5a" stroke-width="4.2"/><path d="M61.5,664.0 C62.9,661.1 64.6,656.2 69.1,654.5 C73.6,652.8 82.2,651.9 88.3,653.5 C94.4,655.1 101.7,661.5 105.5,664.0 C109.3,666.5 111.6,665.9 111.0,668.8 C110.4,671.7 105.5,678.3 101.7,681.3 C97.9,684.3 93.7,687.0 88.3,687.0 C82.9,687.0 73.7,683.8 69.1,681.3 C64.5,678.8 61.8,674.6 60.5,671.7 C59.2,668.8 60.1,666.9 61.5,664.0 Z" fill="#2dbf5a" stroke="#000" stroke-width="2"/><path d="M113.2,664.0 C114.2,661.3 118.7,654.8 122.8,650.6 C126.9,646.5 132.3,641.7 138.0,639.1 C143.7,636.5 152.4,634.6 157.2,635.3 C162.0,635.9 165.5,639.5 166.8,643.0 C168.1,646.5 167.8,652.2 164.9,656.4 C162.0,660.5 155.3,665.8 149.6,667.9 C143.8,670.0 135.8,669.0 130.4,668.8 C125.0,668.6 119.9,667.7 117.0,666.9 C114.1,666.1 112.2,666.7 113.2,664.0 Z" fill="#2dbf5a" stroke="#000" stroke-width="2"/><path d="M66,667 C80,667 95,668 108,668 M72,660 C78,664 80,667 76,672 M82,656 C90,660 96,664 100,668 M78,680 C88,678 96,674 102,670" fill="none" stroke="#000" stroke-width="1.5"/><path d="M118,664 C130,655 145,648 162,642 M128,652 C140,652 150,654 160,652 M138,646 C145,642 150,641 156,638 M150,660 C152,655 154,650 156,646" fill="none" stroke="#000" stroke-width="1.5"/><path d="M114.8,746.8 Q111.5,756.6 111.2,766.4 M113.7,762.8 Q110.9,771.6 110.0,780.4 M115.7,742.7 Q108.1,753.3 105.1,764.0 M113.7,766.3 Q104.9,771.8 102.9,777.2 M114.7,746.5 Q108.1,756.5 107.1,766.6 M113.9,765.7 Q110.7,775.6 107.9,785.6 M113.7,749.3 Q122.0,758.5 123.0,767.6 M114.9,751.2 Q108.4,758.4 106.4,765.6 M115.6,779.4 Q118.7,793.2 120.9,807.0 M115.2,774.1 Q106.1,782.9 104.7,791.7 M113.8,765.1 Q118.7,773.3 119.5,781.4 M116.7,743.1 Q108.8,752.4 106.1,761.6 M113.7,771.6 Q119.1,780.0 119.0,788.5 M113.6,760.8 Q108.8,770.2 105.7,779.7 M114.6,773.2 Q118.0,786.1 120.8,798.9 M115.3,764.7 Q109.4,777.5 105.7,790.3 M115.2,756.1 Q121.2,762.5 125.8,768.9 M114.4,750.5 Q120.4,757.1 124.1,763.8 M114.1,764.1 Q121.5,775.3 124.7,786.5 M116.0,770.4 Q108.8,783.3 109.3,796.1 M116.2,765.2 Q121.9,771.1 122.4,777.0 M113.7,743.0 Q108.1,749.0 107.2,755.0 M113.9,765.5 Q108.3,776.0 103.3,786.6 M114.3,756.9 Q121.6,767.4 125.0,777.8 M114.0,762.0 Q118.0,769.8 120.8,777.6 M116.5,773.3 Q121.4,779.8 126.1,786.2 M117.3,763.8 Q110.0,777.0 108.8,790.2 M114.7,768.9 Q108.9,776.3 106.1,783.6 M114.2,774.7 Q121.4,785.3 122.3,795.8 M116.5,748.8 Q110.9,760.4 107.0,772.1 M115.6,756.0 Q108.2,768.1 104.7,780.2 M114.3,767.2 Q121.5,780.7 120.9,794.1 M117.3,756.4 Q114.1,765.6 113.5,774.9 M115.4,784.3 Q108.8,795.2 108.6,806.1" fill="none" stroke="#222" stroke-width="0.9"/><path d="M113,738 C114,760 115,785 117,812 C119,785 119,760 118,738 Z" fill="#111"/></svg></body></html>
